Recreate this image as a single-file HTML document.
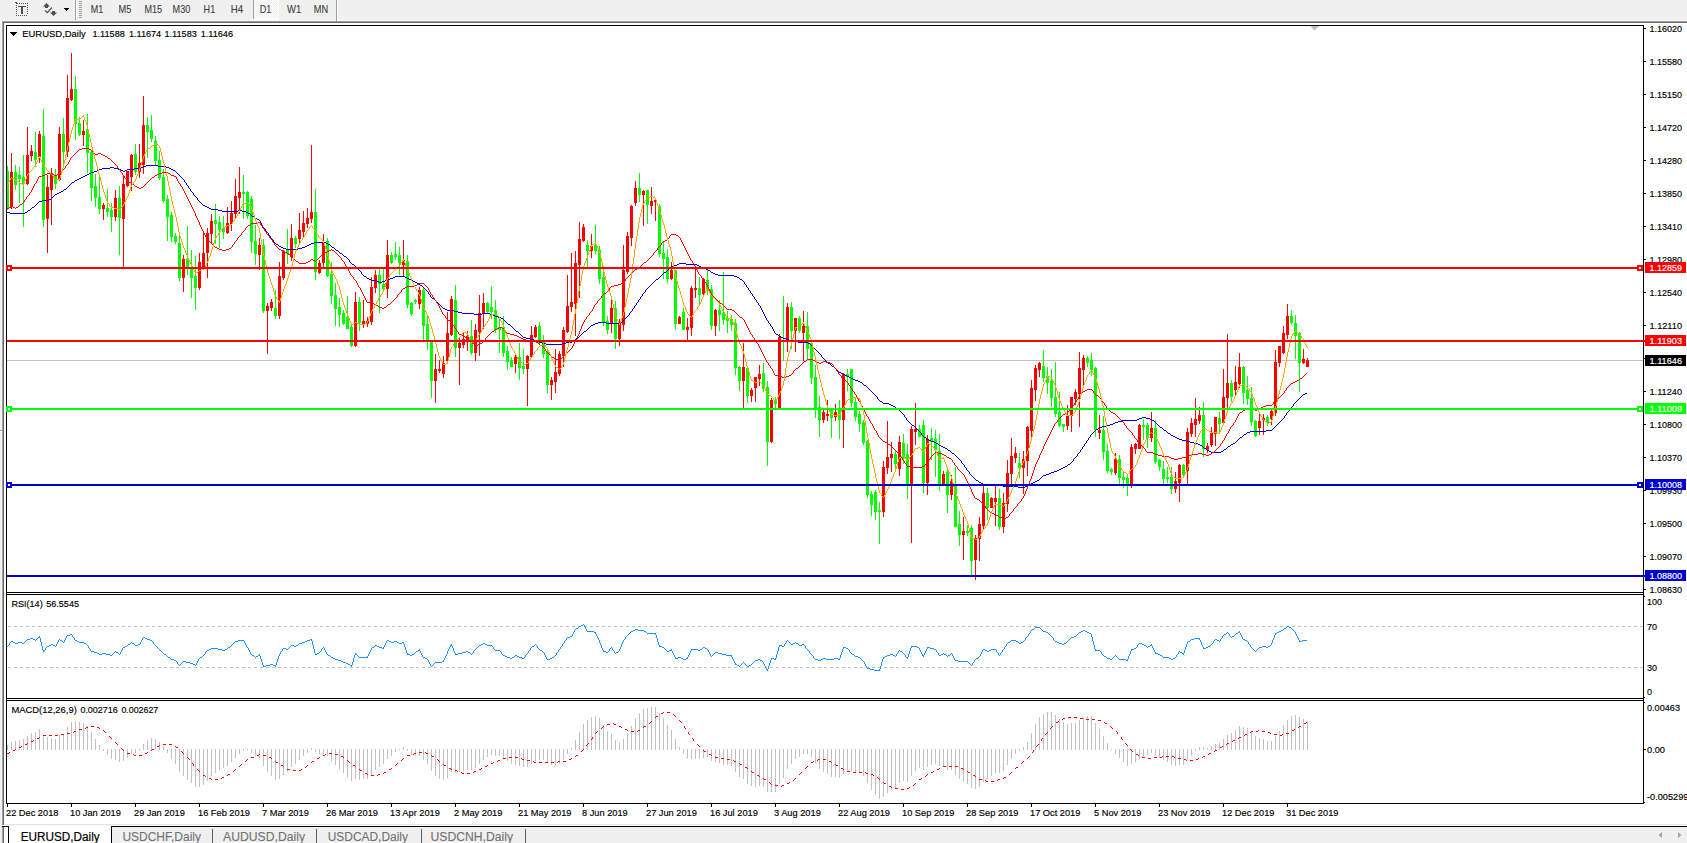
<!DOCTYPE html>
<html><head><meta charset="utf-8"><title>EURUSD,Daily</title>
<style>html,body{margin:0;padding:0;background:#f0f0f0;overflow:hidden}body{width:1687px;height:843px;position:relative;font-family:"Liberation Sans",sans-serif}</style></head>
<body>
<svg width="1687" height="843" viewBox="0 0 1687 843" style="position:absolute;left:0;top:0" shape-rendering="crispEdges" font-family="Liberation Sans, sans-serif" font-size="9.7">
<rect x="0" y="0" width="1687" height="843" fill="#f0f0f0"/>
<rect x="2" y="21" width="1685" height="1" fill="#a0a0a0"/>
<rect x="2" y="21" width="1" height="805" fill="#a0a0a0"/>
<rect x="3" y="22" width="1684" height="1" fill="#696969"/>
<rect x="3" y="22" width="1" height="804" fill="#696969"/>
<rect x="4" y="23" width="1683" height="803" fill="#ffffff"/>
<rect x="0" y="22" width="2" height="1" fill="#ffffff"/>
<rect x="1" y="23" width="1" height="803" fill="#f5f5f5"/>
<rect x="0" y="430" width="2" height="1" fill="#a0a0a0"/>
<rect x="0" y="431" width="2" height="1" fill="#ffffff"/>
<rect x="0" y="20" width="1687" height="1" fill="#f6f6f6"/>
<rect x="4" y="824" width="1683" height="1" fill="#e3e3e3"/>
<rect x="0" y="825" width="1687" height="1" fill="#ffffff"/>
<rect x="0" y="826" width="1687" height="17" fill="#f0f0f0"/>
<rect x="2" y="826" width="1685" height="1" fill="#000000"/>
<rect x="2" y="826" width="2" height="17" fill="#a0a0a0"/>
<rect x="3" y="827" width="1" height="16" fill="#696969"/>
<rect x="9" y="826" width="102" height="17" fill="#ffffff"/>
<rect x="8" y="826" width="1" height="17" fill="#000000"/>
<rect x="111" y="826" width="1" height="17" fill="#000000"/>
<rect x="4" y="827" width="4" height="16" fill="#ffffff"/>
<rect x="2" y="826" width="7" height="1" fill="#000000"/>
<rect x="212" y="829" width="1" height="14" fill="#606060"/>
<rect x="316" y="829" width="1" height="14" fill="#606060"/>
<rect x="421" y="829" width="1" height="14" fill="#606060"/>
<rect x="525" y="829" width="1" height="14" fill="#606060"/>
<path d="M1662 832 L1662 838 L1658.7 835 Z" fill="#a0a0a0" shape-rendering="auto"/>
<path d="M1678 832 L1678 838 L1681.3 835 Z" fill="#a0a0a0" shape-rendering="auto"/>
<rect x="6" y="25" width="1638" height="1" fill="#000"/>
<rect x="6" y="25" width="1" height="779" fill="#000"/>
<rect x="1643" y="25" width="1" height="779" fill="#000"/>
<rect x="6" y="592" width="1638" height="1" fill="#000"/>
<rect x="6" y="594" width="1638" height="1" fill="#000"/>
<rect x="6" y="698" width="1638" height="1" fill="#000"/>
<rect x="6" y="700" width="1638" height="1" fill="#000"/>
<rect x="6" y="803" width="1638" height="1" fill="#000"/>
<g shape-rendering="auto">
<rect x="1644" y="28" width="2" height="1" fill="#000"/>
<text x="1649.5" y="32" fill="#000" textLength="32.5" lengthAdjust="spacingAndGlyphs" stroke="#000" stroke-width="0.16">1.16020</text>
<rect x="1644" y="61" width="2" height="1" fill="#000"/>
<text x="1649.5" y="65" fill="#000" textLength="32.5" lengthAdjust="spacingAndGlyphs" stroke="#000" stroke-width="0.16">1.15580</text>
<rect x="1644" y="94" width="2" height="1" fill="#000"/>
<text x="1649.5" y="98" fill="#000" textLength="32.5" lengthAdjust="spacingAndGlyphs" stroke="#000" stroke-width="0.16">1.15150</text>
<rect x="1644" y="127" width="2" height="1" fill="#000"/>
<text x="1649.5" y="131" fill="#000" textLength="32.5" lengthAdjust="spacingAndGlyphs" stroke="#000" stroke-width="0.16">1.14720</text>
<rect x="1644" y="160" width="2" height="1" fill="#000"/>
<text x="1649.5" y="164" fill="#000" textLength="32.5" lengthAdjust="spacingAndGlyphs" stroke="#000" stroke-width="0.16">1.14280</text>
<rect x="1644" y="193" width="2" height="1" fill="#000"/>
<text x="1649.5" y="197" fill="#000" textLength="32.5" lengthAdjust="spacingAndGlyphs" stroke="#000" stroke-width="0.16">1.13850</text>
<rect x="1644" y="226" width="2" height="1" fill="#000"/>
<text x="1649.5" y="230" fill="#000" textLength="32.5" lengthAdjust="spacingAndGlyphs" stroke="#000" stroke-width="0.16">1.13410</text>
<rect x="1644" y="259" width="2" height="1" fill="#000"/>
<text x="1649.5" y="263" fill="#000" textLength="32.5" lengthAdjust="spacingAndGlyphs" stroke="#000" stroke-width="0.16">1.12980</text>
<rect x="1644" y="292" width="2" height="1" fill="#000"/>
<text x="1649.5" y="296" fill="#000" textLength="32.5" lengthAdjust="spacingAndGlyphs" stroke="#000" stroke-width="0.16">1.12540</text>
<rect x="1644" y="325" width="2" height="1" fill="#000"/>
<text x="1649.5" y="329" fill="#000" textLength="32.5" lengthAdjust="spacingAndGlyphs" stroke="#000" stroke-width="0.16">1.12110</text>
<rect x="1644" y="358" width="2" height="1" fill="#000"/>
<text x="1649.5" y="362" fill="#000" textLength="32.5" lengthAdjust="spacingAndGlyphs" stroke="#000" stroke-width="0.16">1.11670</text>
<rect x="1644" y="391" width="2" height="1" fill="#000"/>
<text x="1649.5" y="395" fill="#000" textLength="32.5" lengthAdjust="spacingAndGlyphs" stroke="#000" stroke-width="0.16">1.11240</text>
<rect x="1644" y="424" width="2" height="1" fill="#000"/>
<text x="1649.5" y="428" fill="#000" textLength="32.5" lengthAdjust="spacingAndGlyphs" stroke="#000" stroke-width="0.16">1.10800</text>
<rect x="1644" y="457" width="2" height="1" fill="#000"/>
<text x="1649.5" y="461" fill="#000" textLength="32.5" lengthAdjust="spacingAndGlyphs" stroke="#000" stroke-width="0.16">1.10370</text>
<rect x="1644" y="490" width="2" height="1" fill="#000"/>
<text x="1649.5" y="494" fill="#000" textLength="32.5" lengthAdjust="spacingAndGlyphs" stroke="#000" stroke-width="0.16">1.09930</text>
<rect x="1644" y="523" width="2" height="1" fill="#000"/>
<text x="1649.5" y="527" fill="#000" textLength="32.5" lengthAdjust="spacingAndGlyphs" stroke="#000" stroke-width="0.16">1.09500</text>
<rect x="1644" y="556" width="2" height="1" fill="#000"/>
<text x="1649.5" y="560" fill="#000" textLength="32.5" lengthAdjust="spacingAndGlyphs" stroke="#000" stroke-width="0.16">1.09070</text>
<rect x="1644" y="589" width="2" height="1" fill="#000"/>
<text x="1649.5" y="593" fill="#000" textLength="32.5" lengthAdjust="spacingAndGlyphs" stroke="#000" stroke-width="0.16">1.08630</text>
</g>
<rect x="1644" y="596" width="1" height="1" fill="#000"/>
<rect x="1644" y="697" width="1" height="1" fill="#000"/>
<rect x="1644" y="702" width="1" height="1" fill="#000"/>
<rect x="1644" y="802" width="1" height="1" fill="#000"/>
<rect x="1644" y="749" width="2" height="1" fill="#000"/>
<g shape-rendering="auto">
<text x="1647" y="605" fill="#000" textLength="15" lengthAdjust="spacingAndGlyphs" stroke="#000" stroke-width="0.16">100</text>
<text x="1647" y="630" fill="#000" textLength="10" lengthAdjust="spacingAndGlyphs" stroke="#000" stroke-width="0.16">70</text>
<text x="1647" y="671" fill="#000" textLength="10" lengthAdjust="spacingAndGlyphs" stroke="#000" stroke-width="0.16">30</text>
<text x="1647" y="695" fill="#000" textLength="5" lengthAdjust="spacingAndGlyphs" stroke="#000" stroke-width="0.16">0</text>
<text x="1647" y="711" fill="#000" textLength="33" lengthAdjust="spacingAndGlyphs" stroke="#000" stroke-width="0.16">0.00463</text>
<text x="1647" y="753" fill="#000" textLength="18" lengthAdjust="spacingAndGlyphs" stroke="#000" stroke-width="0.16">0.00</text>
<text x="1647" y="800" fill="#000" textLength="41.5" lengthAdjust="spacingAndGlyphs" stroke="#000" stroke-width="0.16">-0.005299</text>
</g>
<clipPath id="cm"><rect x="7" y="26" width="1636" height="566"/></clipPath>
<g clip-path="url(#cm)">
<rect x="7" y="360" width="1636" height="1" fill="#c0c0c0"/>
<path fill="#00ff00" d="M7 166h1v44h-1zM6 171h3v37h-3zM15 165h1v25h-1zM14 172h3v13h-3zM19 167h1v36h-1zM18 175h3v4h-3zM23 155h1v72h-1zM22 177h3v7h-3zM35 132h1v35h-1zM34 152h3v8h-3zM43 109h1v118h-1zM42 136h3v84h-3zM55 169h1v20h-1zM54 175h3v9h-3zM63 118h1v48h-1zM62 134h3v18h-3zM75 76h1v64h-1zM74 89h3v35h-3zM79 117h1v19h-1zM78 123h3v12h-3zM87 114h1v59h-1zM86 129h3v24h-3zM91 150h1v51h-1zM90 152h3v36h-3zM95 174h1v33h-1zM94 186h3v12h-3zM99 177h1v37h-1zM98 197h3v12h-3zM107 189h1v28h-1zM106 208h3v4h-3zM111 203h1v29h-1zM110 210h3v7h-3zM119 186h1v69h-1zM118 198h3v20h-3zM135 144h1v31h-1zM134 154h3v18h-3zM147 117h1v41h-1zM146 125h3v7h-3zM151 115h1v27h-1zM150 130h3v9h-3zM155 136h1v29h-1zM154 141h3v20h-3zM159 151h1v29h-1zM158 160h3v18h-3zM163 169h1v34h-1zM162 177h3v24h-3zM167 195h1v46h-1zM166 199h3v18h-3zM171 212h1v30h-1zM170 215h3v22h-3zM175 233h1v11h-1zM174 236h3v6h-3zM179 236h1v45h-1zM178 243h3v35h-3zM187 226h1v49h-1zM186 259h3v9h-3zM191 250h1v48h-1zM190 267h3v11h-3zM195 256h1v54h-1zM194 276h3v12h-3zM215 204h1v40h-1zM214 220h3v4h-3zM219 216h1v32h-1zM218 222h3v8h-3zM223 216h1v23h-1zM222 228h3v4h-3zM243 175h1v44h-1zM242 192h3v2h-3zM247 191h1v28h-1zM246 192h3v24h-3zM251 196h1v57h-1zM250 199h3v43h-3zM255 225h1v40h-1zM254 241h3v13h-3zM263 239h1v74h-1zM262 245h3v66h-3zM275 290h1v29h-1zM274 308h3v8h-3zM287 229h1v35h-1zM286 249h3v5h-3zM295 236h1v12h-1zM294 238h3v6h-3zM315 189h1v91h-1zM314 212h3v60h-3zM327 238h1v39h-1zM326 241h3v35h-3zM331 262h1v42h-1zM330 274h3v22h-3zM335 283h1v43h-1zM334 295h3v14h-3zM339 298h1v29h-1zM338 307h3v8h-3zM343 310h1v15h-1zM342 313h3v11h-3zM347 296h1v33h-1zM346 317h3v12h-3zM351 323h1v24h-1zM350 327h3v19h-3zM359 297h1v34h-1zM358 302h3v21h-3zM379 269h1v44h-1zM378 275h3v9h-3zM383 269h1v22h-1zM382 284h3v5h-3zM391 252h1v12h-1zM390 255h3v8h-3zM395 242h1v18h-1zM394 254h3v3h-3zM399 247h1v28h-1zM398 255h3v8h-3zM407 255h1v53h-1zM406 261h3v44h-3zM411 302h1v14h-1zM410 303h3v11h-3zM415 299h1v5h-1zM414 300h3v2h-3zM423 287h1v53h-1zM422 290h3v36h-3zM427 315h1v35h-1zM426 324h3v17h-3zM431 341h1v57h-1zM430 342h3v39h-3zM455 285h1v72h-1zM454 300h3v48h-3zM471 320h1v35h-1zM470 336h3v17h-3zM487 302h1v11h-1zM486 303h3v9h-3zM491 286h1v33h-1zM490 307h3v5h-3zM495 300h1v33h-1zM494 310h3v20h-3zM499 317h1v36h-1zM498 327h3v3h-3zM503 316h1v41h-1zM502 327h3v26h-3zM507 346h1v24h-1zM506 351h3v11h-3zM511 357h1v10h-1zM510 360h3v7h-3zM519 343h1v37h-1zM518 357h3v11h-3zM523 349h1v25h-1zM522 366h3v3h-3zM539 322h1v22h-1zM538 326h3v17h-3zM543 335h1v23h-1zM542 342h3v12h-3zM547 350h1v43h-1zM546 352h3v33h-3zM587 240h1v27h-1zM586 245h3v6h-3zM595 225h1v29h-1zM594 245h3v6h-3zM599 246h1v38h-1zM598 250h3v29h-3zM603 266h1v60h-1zM602 277h3v46h-3zM607 316h1v18h-1zM606 321h3v9h-3zM615 301h1v48h-1zM614 308h3v31h-3zM639 173h1v29h-1zM638 188h3v7h-3zM647 190h1v34h-1zM646 190h3v15h-3zM659 204h1v53h-1zM658 206h3v48h-3zM663 242h1v37h-1zM662 253h3v6h-3zM667 249h1v34h-1zM666 257h3v22h-3zM675 270h1v60h-1zM674 270h3v54h-3zM683 308h1v22h-1zM682 312h3v18h-3zM699 277h1v28h-1zM698 288h3v7h-3zM707 270h1v25h-1zM706 280h3v10h-3zM711 285h1v45h-1zM710 289h3v37h-3zM719 300h1v31h-1zM718 310h3v5h-3zM723 272h1v53h-1zM722 313h3v7h-3zM727 311h1v22h-1zM726 318h3v3h-3zM731 315h1v16h-1zM730 319h3v6h-3zM735 319h1v56h-1zM734 323h3v45h-3zM739 366h1v25h-1zM738 367h3v14h-3zM747 367h1v36h-1zM746 368h3v28h-3zM763 363h1v29h-1zM762 373h3v16h-3zM767 381h1v85h-1zM766 387h3v55h-3zM775 397h1v12h-1zM774 400h3v4h-3zM783 296h1v65h-1zM782 340h3v2h-3zM791 302h1v47h-1zM790 307h3v24h-3zM799 316h1v17h-1zM798 318h3v13h-3zM807 312h1v48h-1zM806 326h3v23h-3zM811 340h1v44h-1zM810 343h3v35h-3zM815 365h1v53h-1zM814 377h3v32h-3zM819 396h1v41h-1zM818 407h3v13h-3zM831 410h1v28h-1zM830 410h3v8h-3zM839 400h1v39h-1zM838 410h3v10h-3zM847 369h1v22h-1zM846 374h3v3h-3zM851 369h1v38h-1zM850 369h3v34h-3zM855 397h1v24h-1zM854 402h3v15h-3zM859 411h1v21h-1zM858 414h3v10h-3zM863 420h1v25h-1zM862 422h3v21h-3zM867 440h1v58h-1zM866 441h3v54h-3zM871 491h1v25h-1zM870 494h3v11h-3zM875 490h1v30h-1zM874 492h3v20h-3zM879 502h1v42h-1zM878 510h3v2h-3zM895 451h1v18h-1zM894 454h3v10h-3zM903 434h1v30h-1zM902 443h3v15h-3zM907 444h1v55h-1zM906 454h3v31h-3zM919 425h1v12h-1zM918 429h3v8h-3zM923 420h1v73h-1zM922 425h3v58h-3zM931 428h1v32h-1zM930 438h3v4h-3zM935 430h1v47h-1zM934 439h3v11h-3zM939 434h1v57h-1zM938 451h3v34h-3zM947 470h1v43h-1zM946 472h3v23h-3zM955 467h1v60h-1zM954 486h3v41h-3zM959 511h1v35h-1zM958 524h3v11h-3zM967 525h1v11h-1zM966 531h3v2h-3zM971 525h1v50h-1zM970 528h3v33h-3zM987 488h1v32h-1zM986 493h3v15h-3zM999 489h1v41h-1zM998 498h3v29h-3zM1019 453h1v25h-1zM1018 463h3v5h-3zM1043 350h1v32h-1zM1042 366h3v12h-3zM1047 367h1v27h-1zM1046 376h3v7h-3zM1051 369h1v38h-1zM1050 381h3v17h-3zM1055 362h1v55h-1zM1054 397h3v17h-3zM1059 392h1v35h-1zM1058 412h3v14h-3zM1063 424h1v8h-1zM1062 424h3v3h-3zM1087 356h1v11h-1zM1086 358h3v5h-3zM1091 353h1v23h-1zM1090 360h3v10h-3zM1095 367h1v70h-1zM1094 368h3v62h-3zM1103 416h1v44h-1zM1102 430h3v22h-3zM1107 444h1v29h-1zM1106 451h3v20h-3zM1111 468h1v7h-1zM1110 469h3v3h-3zM1119 455h1v30h-1zM1118 459h3v19h-3zM1123 472h1v16h-1zM1122 477h3v3h-3zM1127 475h1v21h-1zM1126 478h3v7h-3zM1143 419h1v21h-1zM1142 425h3v2h-3zM1147 423h1v25h-1zM1146 425h3v13h-3zM1155 420h1v44h-1zM1154 428h3v34h-3zM1159 459h1v12h-1zM1158 460h3v7h-3zM1163 461h1v24h-1zM1162 469h3v10h-3zM1167 467h1v16h-1zM1166 477h3v2h-3zM1171 467h1v27h-1zM1170 477h3v12h-3zM1183 464h1v14h-1zM1182 465h3v10h-3zM1203 402h1v55h-1zM1202 415h3v34h-3zM1219 412h1v21h-1zM1218 418h3v6h-3zM1231 380h1v22h-1zM1230 383h3v14h-3zM1243 366h1v38h-1zM1242 367h3v26h-3zM1247 376h1v29h-1zM1246 390h3v9h-3zM1251 387h1v39h-1zM1250 398h3v24h-3zM1255 420h1v17h-1zM1254 421h3v15h-3zM1267 415h1v11h-1zM1266 417h3v6h-3zM1291 310h1v15h-1zM1290 316h3v7h-3zM1295 315h1v44h-1zM1294 323h3v13h-3zM1299 332h1v60h-1zM1298 333h3v30h-3z"/>
<path fill="#ff0000" d="M11 153h1v56h-1zM10 172h3v35h-3zM27 127h1v58h-1zM26 155h3v29h-3zM31 145h1v16h-1zM30 151h3v5h-3zM39 131h1v32h-1zM38 134h3v23h-3zM47 175h1v78h-1zM46 187h3v32h-3zM51 168h1v57h-1zM50 173h3v17h-3zM59 127h1v54h-1zM58 134h3v46h-3zM67 75h1v82h-1zM66 98h3v54h-3zM71 53h1v48h-1zM70 89h3v11h-3zM83 120h1v26h-1zM82 131h3v4h-3zM103 203h1v17h-1zM102 205h3v4h-3zM115 190h1v31h-1zM114 198h3v19h-3zM123 176h1v92h-1zM122 184h3v35h-3zM127 171h1v16h-1zM126 171h3v15h-3zM131 154h1v37h-1zM130 155h3v22h-3zM139 144h1v34h-1zM138 163h3v9h-3zM143 96h1v78h-1zM142 125h3v40h-3zM183 255h1v37h-1zM182 259h3v19h-3zM199 253h1v37h-1zM198 262h3v26h-3zM203 232h1v36h-1zM202 253h3v14h-3zM207 228h1v50h-1zM206 233h3v20h-3zM211 214h1v29h-1zM210 221h3v13h-3zM227 207h1v27h-1zM226 223h3v10h-3zM231 201h1v30h-1zM230 213h3v11h-3zM235 179h1v39h-1zM234 196h3v18h-3zM239 167h1v47h-1zM238 192h3v6h-3zM259 238h1v32h-1zM258 245h3v10h-3zM267 303h1v51h-1zM266 306h3v5h-3zM271 299h1v12h-1zM270 302h3v6h-3zM279 262h1v57h-1zM278 276h3v40h-3zM283 250h1v30h-1zM282 251h3v27h-3zM291 224h1v37h-1zM290 238h3v19h-3zM299 213h1v30h-1zM298 230h3v9h-3zM303 211h1v26h-1zM302 223h3v9h-3zM307 208h1v20h-1zM306 218h3v6h-3zM311 145h1v78h-1zM310 212h3v7h-3zM319 260h1v14h-1zM318 263h3v10h-3zM323 234h1v33h-1zM322 243h3v20h-3zM355 292h1v55h-1zM354 302h3v44h-3zM363 300h1v28h-1zM362 321h3v3h-3zM367 317h1v10h-1zM366 321h3v3h-3zM371 277h1v48h-1zM370 287h3v35h-3zM375 270h1v23h-1zM374 275h3v13h-3zM387 240h1v58h-1zM386 255h3v34h-3zM403 240h1v36h-1zM402 260h3v5h-3zM419 287h1v22h-1zM418 290h3v14h-3zM435 354h1v49h-1zM434 369h3v12h-3zM439 360h1v13h-1zM438 369h3v2h-3zM443 356h1v22h-1zM442 363h3v11h-3zM447 312h1v50h-1zM446 333h3v28h-3zM451 296h1v40h-1zM450 299h3v36h-3zM459 338h1v47h-1zM458 343h3v5h-3zM463 333h1v15h-1zM462 339h3v6h-3zM467 331h1v20h-1zM466 336h3v5h-3zM475 324h1v37h-1zM474 330h3v23h-3zM479 295h1v61h-1zM478 313h3v19h-3zM483 293h1v36h-1zM482 303h3v11h-3zM515 354h1v19h-1zM514 357h3v7h-3zM527 355h1v51h-1zM526 356h3v13h-3zM531 326h1v31h-1zM530 335h3v22h-3zM535 325h1v13h-1zM534 327h3v10h-3zM551 377h1v23h-1zM550 380h3v5h-3zM555 349h1v44h-1zM554 372h3v10h-3zM559 351h1v25h-1zM558 354h3v20h-3zM563 327h1v40h-1zM562 330h3v26h-3zM567 275h1v58h-1zM566 306h3v26h-3zM571 253h1v59h-1zM570 302h3v5h-3zM575 251h1v85h-1zM574 263h3v41h-3zM579 222h1v76h-1zM578 239h3v26h-3zM583 224h1v18h-1zM582 227h3v14h-3zM591 234h1v24h-1zM590 246h3v5h-3zM611 300h1v33h-1zM610 308h3v16h-3zM619 319h1v27h-1zM618 323h3v16h-3zM623 245h1v86h-1zM622 270h3v55h-3zM627 232h1v42h-1zM626 236h3v36h-3zM631 205h1v41h-1zM630 206h3v32h-3zM635 181h1v25h-1zM634 188h3v15h-3zM643 190h1v36h-1zM642 191h3v4h-3zM651 187h1v27h-1zM650 201h3v5h-3zM655 199h1v22h-1zM654 200h3v2h-3zM671 262h1v18h-1zM670 270h3v9h-3zM679 316h1v8h-1zM678 317h3v7h-3zM687 318h1v23h-1zM686 327h3v3h-3zM691 286h1v50h-1zM690 288h3v40h-3zM695 268h1v30h-1zM694 288h3v2h-3zM703 278h1v17h-1zM702 279h3v15h-3zM715 309h1v27h-1zM714 310h3v16h-3zM743 343h1v66h-1zM742 367h3v14h-3zM751 388h1v14h-1zM750 390h3v6h-3zM755 377h1v25h-1zM754 377h3v11h-3zM759 365h1v21h-1zM758 374h3v5h-3zM771 398h1v45h-1zM770 400h3v42h-3zM779 334h1v74h-1zM778 337h3v71h-3zM787 303h1v49h-1zM786 307h3v33h-3zM795 318h1v34h-1zM794 318h3v13h-3zM803 311h1v50h-1zM802 326h3v7h-3zM823 410h1v13h-1zM822 412h3v8h-3zM827 400h1v21h-1zM826 414h3v2h-3zM835 404h1v17h-1zM834 412h3v5h-3zM843 373h1v75h-1zM842 374h3v46h-3zM883 461h1v56h-1zM882 467h3v45h-3zM887 421h1v53h-1zM886 457h3v11h-3zM891 442h1v30h-1zM890 454h3v4h-3zM899 436h1v40h-1zM898 442h3v27h-3zM911 426h1v117h-1zM910 429h3v56h-3zM915 403h1v42h-1zM914 429h3v3h-3zM927 435h1v60h-1zM926 439h3v44h-3zM943 471h1v15h-1zM942 474h3v11h-3zM951 475h1v25h-1zM950 481h3v14h-3zM963 517h1v43h-1zM962 531h3v4h-3zM975 535h1v45h-1zM974 538h3v22h-3zM979 517h1v44h-1zM978 524h3v15h-3zM983 485h1v44h-1zM982 493h3v33h-3zM991 497h1v11h-1zM990 498h3v10h-3zM995 486h1v40h-1zM994 498h3v4h-3zM1003 493h1v40h-1zM1002 503h3v24h-3zM1007 460h1v52h-1zM1006 473h3v31h-3zM1011 438h1v47h-1zM1010 456h3v18h-3zM1015 447h1v16h-1zM1014 453h3v5h-3zM1023 451h1v43h-1zM1022 459h3v9h-3zM1027 426h1v50h-1zM1026 427h3v34h-3zM1031 380h1v57h-1zM1030 388h3v43h-3zM1035 365h1v36h-1zM1034 368h3v22h-3zM1039 362h1v15h-1zM1038 363h3v7h-3zM1067 405h1v25h-1zM1066 416h3v10h-3zM1071 397h1v35h-1zM1070 397h3v19h-3zM1075 389h1v16h-1zM1074 392h3v7h-3zM1079 352h1v75h-1zM1078 368h3v26h-3zM1083 355h1v32h-1zM1082 358h3v12h-3zM1099 415h1v24h-1zM1098 430h3v3h-3zM1115 453h1v22h-1zM1114 459h3v14h-3zM1131 444h1v44h-1zM1130 447h3v38h-3zM1135 443h1v11h-1zM1134 444h3v5h-3zM1139 424h1v25h-1zM1138 425h3v24h-3zM1151 412h1v30h-1zM1150 428h3v10h-3zM1175 472h1v21h-1zM1174 481h3v8h-3zM1179 464h1v38h-1zM1178 465h3v18h-3zM1187 428h1v57h-1zM1186 432h3v39h-3zM1191 418h1v19h-1zM1190 423h3v11h-3zM1195 398h1v39h-1zM1194 419h3v6h-3zM1199 407h1v17h-1zM1198 415h3v6h-3zM1207 443h1v10h-1zM1206 446h3v4h-3zM1211 427h1v20h-1zM1210 433h3v12h-3zM1215 417h1v29h-1zM1214 417h3v17h-3zM1223 369h1v55h-1zM1222 397h3v26h-3zM1227 334h1v79h-1zM1226 383h3v15h-3zM1235 366h1v30h-1zM1234 382h3v8h-3zM1239 353h1v35h-1zM1238 367h3v17h-3zM1259 413h1v22h-1zM1258 421h3v7h-3zM1263 414h1v21h-1zM1262 418h3v2h-3zM1271 410h1v15h-1zM1270 411h3v8h-3zM1275 350h1v66h-1zM1274 362h3v51h-3zM1279 346h1v21h-1zM1278 346h3v17h-3zM1283 326h1v28h-1zM1282 333h3v20h-3zM1287 304h1v35h-1zM1286 316h3v19h-3zM1303 349h1v15h-1zM1302 359h3v4h-3zM1307 358h1v9h-1zM1306 360h3v7h-3z"/>
<path fill="#0000cd" d="M7 212h3v1h-3zM10 213h15v1h-15zM25 212h2v1h-2zM27 211h1v1h-1zM28 210h2v1h-2zM30 209h1v1h-1zM31 208h1v1h-1zM32 207h2v1h-2zM34 206h1v1h-1zM35 205h1v1h-1zM36 204h1v1h-1zM37 203h1v1h-1zM38 202h1v1h-1zM39 201h3v1h-3zM42 200h7v1h-7zM49 199h2v1h-2zM51 198h1v1h-1zM52 197h1v1h-1zM53 196h1v1h-1zM54 195h1v1h-1zM55 194h2v1h-2zM57 193h2v1h-2zM59 192h2v1h-2zM61 191h2v1h-2zM63 190h1v1h-1zM64 189h2v1h-2zM66 188h1v1h-1zM67 187h1v1h-1zM68 186h1v1h-1zM69 185h1v1h-1zM70 184h1v1h-1zM71 183h1v1h-1zM72 182h2v1h-2zM74 181h1v1h-1zM75 180h2v1h-2zM77 179h2v1h-2zM79 178h2v1h-2zM81 177h2v1h-2zM83 176h2v1h-2zM85 175h2v1h-2zM87 174h2v1h-2zM89 173h2v1h-2zM91 172h3v1h-3zM94 171h3v1h-3zM97 170h2v1h-2zM99 169h3v1h-3zM102 168h8v1h-8zM110 167h4v1h-4zM114 168h4v1h-4zM118 169h3v1h-3zM121 170h2v1h-2zM123 171h2v1h-2zM125 170h2v1h-2zM127 169h7v1h-7zM134 168h7v1h-7zM141 167h2v1h-2zM143 166h3v1h-3zM146 165h12v1h-12zM158 166h8v1h-8zM166 167h3v1h-3zM169 168h2v1h-2zM171 169h2v1h-2zM173 170h2v1h-2zM175 171h1v1h-1zM176 172h1v1h-1zM177 173h1v1h-1zM178 174h1v1h-1zM179 175h1v1h-1zM180 176h1v1h-1zM181 177h1v1h-1zM182 178h1v1h-1zM183 179h1v1h-1zM184 180h1v2h-1zM185 182h1v1h-1zM186 183h1v2h-1zM187 185h1v1h-1zM188 186h1v2h-1zM189 188h1v1h-1zM190 189h1v2h-1zM191 191h1v1h-1zM192 192h1v1h-1zM193 193h1v2h-1zM194 195h1v1h-1zM195 196h1v1h-1zM196 197h1v1h-1zM197 198h1v2h-1zM198 200h1v1h-1zM199 201h1v1h-1zM200 202h1v1h-1zM201 203h1v1h-1zM202 204h1v1h-1zM203 205h2v1h-2zM205 206h2v1h-2zM207 207h2v1h-2zM209 208h2v1h-2zM211 209h7v1h-7zM218 210h4v1h-4zM222 211h16v1h-16zM238 210h4v1h-4zM242 211h4v1h-4zM246 212h2v1h-2zM248 213h2v1h-2zM250 214h1v1h-1zM251 215h1v1h-1zM252 216h2v1h-2zM254 217h1v1h-1zM255 218h2v1h-2zM257 219h2v1h-2zM259 220h1v1h-1zM260 221h1v2h-1zM261 223h1v2h-1zM262 225h1v2h-1zM263 227h1v1h-1zM264 228h1v1h-1zM265 229h1v2h-1zM266 231h1v1h-1zM267 232h1v1h-1zM268 233h1v2h-1zM269 235h1v1h-1zM270 236h1v2h-1zM271 238h1v1h-1zM272 239h1v1h-1zM273 240h1v2h-1zM274 242h1v1h-1zM275 243h1v1h-1zM276 244h2v1h-2zM278 245h1v1h-1zM279 246h2v1h-2zM281 247h2v1h-2zM283 248h3v1h-3zM286 249h12v1h-12zM298 248h4v1h-4zM302 247h3v1h-3zM305 246h2v1h-2zM307 245h2v1h-2zM309 244h2v1h-2zM311 243h3v1h-3zM314 242h12v1h-12zM326 243h2v1h-2zM328 244h2v1h-2zM330 245h1v1h-1zM331 246h1v1h-1zM332 247h2v1h-2zM334 248h1v1h-1zM335 249h1v1h-1zM336 250h2v1h-2zM338 251h1v1h-1zM339 252h1v1h-1zM340 253h2v1h-2zM342 254h1v1h-1zM343 255h1v1h-1zM344 256h2v1h-2zM346 257h1v1h-1zM347 258h1v1h-1zM348 259h1v1h-1zM349 260h1v2h-1zM350 262h1v1h-1zM351 263h1v1h-1zM352 264h2v1h-2zM354 265h1v1h-1zM355 266h1v1h-1zM356 267h1v1h-1zM357 268h1v1h-1zM358 269h1v1h-1zM359 270h1v1h-1zM360 271h1v1h-1zM361 272h1v2h-1zM362 274h1v1h-1zM363 275h1v1h-1zM364 276h2v1h-2zM366 277h1v1h-1zM367 278h2v1h-2zM369 279h2v1h-2zM371 280h6v1h-6zM377 281h2v1h-2zM379 282h3v1h-3zM382 281h3v1h-3zM385 280h2v1h-2zM387 279h3v1h-3zM390 278h3v1h-3zM393 277h2v1h-2zM395 276h10v1h-10zM405 277h2v1h-2zM407 278h2v1h-2zM409 279h2v1h-2zM411 280h2v1h-2zM413 281h2v1h-2zM415 282h2v1h-2zM417 283h2v1h-2zM419 284h1v1h-1zM420 285h2v1h-2zM422 286h1v1h-1zM423 287h1v1h-1zM424 288h1v1h-1zM425 289h1v1h-1zM426 290h1v1h-1zM427 291h1v1h-1zM428 292h1v2h-1zM429 294h1v1h-1zM430 295h1v2h-1zM431 297h1v1h-1zM432 298h2v1h-2zM434 299h1v1h-1zM435 300h1v1h-1zM436 301h1v1h-1zM437 302h1v1h-1zM438 303h1v1h-1zM439 304h1v1h-1zM440 305h1v1h-1zM441 306h1v1h-1zM442 307h1v1h-1zM443 308h2v1h-2zM445 309h2v1h-2zM447 310h7v1h-7zM454 311h4v1h-4zM458 312h4v1h-4zM462 313h12v1h-12zM474 314h8v1h-8zM482 313h8v1h-8zM490 314h3v1h-3zM493 315h2v1h-2zM495 316h3v1h-3zM498 317h3v1h-3zM501 318h2v1h-2zM503 319h1v1h-1zM504 320h1v1h-1zM505 321h1v1h-1zM506 322h1v1h-1zM507 323h1v1h-1zM508 324h2v1h-2zM510 325h1v1h-1zM511 326h1v1h-1zM512 327h1v1h-1zM513 328h1v1h-1zM514 329h1v1h-1zM515 330h1v1h-1zM516 331h2v1h-2zM518 332h1v1h-1zM519 333h1v1h-1zM520 334h1v1h-1zM521 335h1v1h-1zM522 336h1v1h-1zM523 337h3v1h-3zM526 338h4v1h-4zM530 339h4v1h-4zM534 340h3v1h-3zM537 341h2v1h-2zM539 342h3v1h-3zM542 343h4v1h-4zM546 344h16v1h-16zM562 343h4v1h-4zM566 342h6v1h-6zM572 341h2v1h-2zM574 340h1v1h-1zM575 339h1v1h-1zM576 338h2v1h-2zM578 337h1v1h-1zM579 336h1v1h-1zM580 335h1v1h-1zM581 334h1v1h-1zM582 333h1v1h-1zM583 332h1v1h-1zM584 331h2v1h-2zM586 330h1v1h-1zM587 329h1v1h-1zM588 328h1v1h-1zM589 327h1v1h-1zM590 326h1v1h-1zM591 325h2v1h-2zM593 324h2v1h-2zM595 323h3v1h-3zM598 322h8v1h-8zM606 323h14v1h-14zM620 322h2v1h-2zM622 321h1v1h-1zM623 320h1v1h-1zM624 319h1v1h-1zM625 318h1v1h-1zM626 317h1v1h-1zM627 316h1v1h-1zM628 315h1v1h-1zM629 313h1v2h-1zM630 312h1v1h-1zM631 311h1v1h-1zM632 309h1v2h-1zM633 308h1v1h-1zM634 306h1v2h-1zM635 305h1v1h-1zM636 303h1v2h-1zM637 302h1v1h-1zM638 300h1v2h-1zM639 299h1v1h-1zM640 297h1v2h-1zM641 296h1v1h-1zM642 294h1v2h-1zM643 293h1v1h-1zM644 292h1v1h-1zM645 290h1v2h-1zM646 289h1v1h-1zM647 288h1v1h-1zM648 287h1v1h-1zM649 286h1v1h-1zM650 285h1v1h-1zM651 284h1v1h-1zM652 283h1v1h-1zM653 282h1v1h-1zM654 281h1v1h-1zM655 280h1v1h-1zM656 279h2v1h-2zM658 278h1v1h-1zM659 277h1v1h-1zM660 276h1v1h-1zM661 275h1v1h-1zM662 274h1v1h-1zM663 273h1v1h-1zM664 272h2v1h-2zM666 271h1v1h-1zM667 270h1v1h-1zM668 269h1v1h-1zM669 268h1v1h-1zM670 267h1v1h-1zM671 266h3v1h-3zM674 265h3v1h-3zM677 264h2v1h-2zM679 263h7v1h-7zM686 264h11v1h-11zM697 265h2v1h-2zM699 266h2v1h-2zM701 267h2v1h-2zM703 268h3v1h-3zM706 269h2v1h-2zM708 270h2v1h-2zM710 271h1v1h-1zM711 272h2v1h-2zM713 273h2v1h-2zM715 274h3v1h-3zM718 275h16v1h-16zM734 276h3v1h-3zM737 277h2v1h-2zM739 278h1v1h-1zM740 279h2v1h-2zM742 280h1v1h-1zM743 281h1v1h-1zM744 282h1v2h-1zM745 284h1v1h-1zM746 285h1v2h-1zM747 287h1v1h-1zM748 288h1v2h-1zM749 290h1v1h-1zM750 291h1v2h-1zM751 293h1v1h-1zM752 294h1v2h-1zM753 296h1v1h-1zM754 297h1v2h-1zM755 299h1v1h-1zM756 300h1v2h-1zM757 302h1v1h-1zM758 303h1v2h-1zM759 305h1v1h-1zM760 306h1v2h-1zM761 308h1v2h-1zM762 310h1v2h-1zM763 312h1v2h-1zM764 314h1v2h-1zM765 316h1v2h-1zM766 318h1v2h-1zM767 320h1v1h-1zM768 321h1v2h-1zM769 323h1v1h-1zM770 324h1v2h-1zM771 326h1v1h-1zM772 327h1v2h-1zM773 329h1v2h-1zM774 331h1v2h-1zM775 333h1v1h-1zM776 334h2v1h-2zM778 335h1v1h-1zM779 336h2v1h-2zM781 337h2v1h-2zM783 338h3v1h-3zM786 339h3v1h-3zM789 340h2v1h-2zM791 341h7v1h-7zM798 342h10v1h-10zM808 343h2v1h-2zM810 344h1v1h-1zM811 345h1v1h-1zM812 346h1v1h-1zM813 347h1v1h-1zM814 348h1v1h-1zM815 349h1v1h-1zM816 350h1v1h-1zM817 351h1v1h-1zM818 352h1v1h-1zM819 353h1v1h-1zM820 354h1v1h-1zM821 355h1v2h-1zM822 357h1v1h-1zM823 358h1v1h-1zM824 359h1v1h-1zM825 360h1v1h-1zM826 361h1v1h-1zM827 362h1v1h-1zM828 363h2v1h-2zM830 364h1v1h-1zM831 365h1v1h-1zM832 366h2v1h-2zM834 367h1v1h-1zM835 368h1v1h-1zM836 369h1v1h-1zM837 370h1v1h-1zM838 371h1v1h-1zM839 372h2v1h-2zM841 373h2v1h-2zM843 374h2v1h-2zM845 375h2v1h-2zM847 376h2v1h-2zM849 377h2v1h-2zM851 378h2v1h-2zM853 379h2v1h-2zM855 380h3v1h-3zM858 381h2v1h-2zM860 382h2v1h-2zM862 383h1v1h-1zM863 384h1v1h-1zM864 385h2v1h-2zM866 386h1v1h-1zM867 387h1v1h-1zM868 388h1v1h-1zM869 389h1v1h-1zM870 390h1v1h-1zM871 391h1v1h-1zM872 392h1v1h-1zM873 393h1v1h-1zM874 394h1v1h-1zM875 395h1v1h-1zM876 396h1v1h-1zM877 397h1v2h-1zM878 399h1v1h-1zM879 400h1v1h-1zM880 401h2v1h-2zM882 402h1v1h-1zM883 403h6v1h-6zM889 404h2v1h-2zM891 405h2v1h-2zM893 406h2v1h-2zM895 407h1v1h-1zM896 408h2v1h-2zM898 409h1v1h-1zM899 410h1v1h-1zM900 411h1v1h-1zM901 412h1v1h-1zM902 413h1v1h-1zM903 414h1v1h-1zM904 415h1v2h-1zM905 417h1v1h-1zM906 418h1v2h-1zM907 420h1v1h-1zM908 421h1v1h-1zM909 422h1v1h-1zM910 423h1v1h-1zM911 424h1v1h-1zM912 425h2v1h-2zM914 426h1v1h-1zM915 427h1v1h-1zM916 428h1v1h-1zM917 429h1v1h-1zM918 430h1v1h-1zM919 431h1v1h-1zM920 432h1v1h-1zM921 433h1v2h-1zM922 435h1v1h-1zM923 436h1v1h-1zM924 437h2v1h-2zM926 438h1v1h-1zM927 439h2v1h-2zM929 440h2v1h-2zM931 441h3v1h-3zM934 442h2v1h-2zM936 443h2v1h-2zM938 444h1v1h-1zM939 445h2v1h-2zM941 446h2v1h-2zM943 447h2v1h-2zM945 448h2v1h-2zM947 449h1v1h-1zM948 450h2v1h-2zM950 451h1v1h-1zM951 452h1v1h-1zM952 453h2v1h-2zM954 454h1v1h-1zM955 455h1v1h-1zM956 456h1v1h-1zM957 457h1v1h-1zM958 458h1v1h-1zM959 459h1v1h-1zM960 460h1v1h-1zM961 461h1v2h-1zM962 463h1v1h-1zM963 464h1v1h-1zM964 465h1v2h-1zM965 467h1v1h-1zM966 468h1v2h-1zM967 470h1v1h-1zM968 471h1v1h-1zM969 472h1v2h-1zM970 474h1v1h-1zM971 475h1v1h-1zM972 476h1v1h-1zM973 477h1v1h-1zM974 478h1v1h-1zM975 479h1v1h-1zM976 480h2v1h-2zM978 481h1v1h-1zM979 482h2v1h-2zM981 483h2v1h-2zM983 484h18v1h-18zM1001 485h2v1h-2zM1003 486h15v1h-15zM1018 487h7v1h-7zM1025 486h2v1h-2zM1027 485h2v1h-2zM1029 484h2v1h-2zM1031 483h2v1h-2zM1033 482h2v1h-2zM1035 481h2v1h-2zM1037 480h2v1h-2zM1039 479h1v1h-1zM1040 478h1v1h-1zM1041 477h1v1h-1zM1042 476h1v1h-1zM1043 475h3v1h-3zM1046 474h3v1h-3zM1049 473h2v1h-2zM1051 472h3v1h-3zM1054 471h3v1h-3zM1057 470h2v1h-2zM1059 469h2v1h-2zM1061 468h2v1h-2zM1063 467h2v1h-2zM1065 466h2v1h-2zM1067 465h1v1h-1zM1068 464h2v1h-2zM1070 463h1v1h-1zM1071 462h1v1h-1zM1072 461h1v1h-1zM1073 459h1v2h-1zM1074 458h1v1h-1zM1075 457h1v1h-1zM1076 456h1v1h-1zM1077 454h1v2h-1zM1078 453h1v1h-1zM1079 452h1v1h-1zM1080 450h1v2h-1zM1081 449h1v1h-1zM1082 447h1v2h-1zM1083 446h1v1h-1zM1084 444h1v2h-1zM1085 443h1v1h-1zM1086 441h1v2h-1zM1087 440h1v1h-1zM1088 438h1v2h-1zM1089 437h1v1h-1zM1090 435h1v2h-1zM1091 434h1v1h-1zM1092 433h1v1h-1zM1093 432h1v1h-1zM1094 431h1v1h-1zM1095 430h1v1h-1zM1096 429h2v1h-2zM1098 428h1v1h-1zM1099 427h3v1h-3zM1102 426h4v1h-4zM1106 425h4v1h-4zM1110 424h3v1h-3zM1113 423h2v1h-2zM1115 422h3v1h-3zM1118 421h4v1h-4zM1122 420h15v1h-15zM1137 419h2v1h-2zM1139 418h3v1h-3zM1142 417h4v1h-4zM1146 418h4v1h-4zM1150 419h2v1h-2zM1152 420h2v1h-2zM1154 421h1v1h-1zM1155 422h1v1h-1zM1156 423h1v1h-1zM1157 424h1v1h-1zM1158 425h1v1h-1zM1159 426h1v1h-1zM1160 427h2v1h-2zM1162 428h1v1h-1zM1163 429h1v1h-1zM1164 430h2v1h-2zM1166 431h1v1h-1zM1167 432h1v1h-1zM1168 433h2v1h-2zM1170 434h1v1h-1zM1171 435h2v1h-2zM1173 436h2v1h-2zM1175 437h2v1h-2zM1177 438h2v1h-2zM1179 439h3v1h-3zM1182 440h4v1h-4zM1186 441h4v1h-4zM1190 442h4v1h-4zM1194 443h4v1h-4zM1198 444h2v1h-2zM1200 445h2v1h-2zM1202 446h1v1h-1zM1203 447h1v1h-1zM1204 448h2v1h-2zM1206 449h1v1h-1zM1207 450h2v1h-2zM1209 451h2v1h-2zM1211 452h10v1h-10zM1221 451h2v1h-2zM1223 450h1v1h-1zM1224 449h2v1h-2zM1226 448h1v1h-1zM1227 447h1v1h-1zM1228 446h2v1h-2zM1230 445h1v1h-1zM1231 444h2v1h-2zM1233 443h2v1h-2zM1235 442h1v1h-1zM1236 441h1v1h-1zM1237 440h1v1h-1zM1238 439h1v1h-1zM1239 438h1v1h-1zM1240 437h2v1h-2zM1242 436h1v1h-1zM1243 435h1v1h-1zM1244 434h2v1h-2zM1246 433h1v1h-1zM1247 432h3v1h-3zM1250 431h16v1h-16zM1266 430h6v1h-6zM1272 429h1v1h-1zM1273 428h1v1h-1zM1274 427h1v1h-1zM1275 426h1v1h-1zM1276 425h1v1h-1zM1277 424h1v1h-1zM1278 423h1v1h-1zM1279 422h1v1h-1zM1280 421h1v1h-1zM1281 420h1v1h-1zM1282 419h1v1h-1zM1283 418h1v1h-1zM1284 416h1v2h-1zM1285 415h1v1h-1zM1286 413h1v2h-1zM1287 412h1v1h-1zM1288 411h1v1h-1zM1289 409h1v2h-1zM1290 408h1v1h-1zM1291 407h1v1h-1zM1292 406h1v1h-1zM1293 404h1v2h-1zM1294 403h1v1h-1zM1295 402h1v1h-1zM1296 401h1v1h-1zM1297 400h1v1h-1zM1298 399h1v1h-1zM1299 398h1v1h-1zM1300 397h1v1h-1zM1301 396h1v1h-1zM1302 395h1v1h-1zM1303 394h2v1h-2zM1305 393h2v1h-2z"/>
<path fill="#ff0000" d="M7 208h2v1h-2zM9 207h2v1h-2zM11 206h2v1h-2zM13 207h2v1h-2zM15 208h1v1h-1zM16 207h2v1h-2zM18 206h1v1h-1zM19 205h1v1h-1zM20 204h2v1h-2zM22 203h1v1h-1zM23 202h1v1h-1zM24 200h1v2h-1zM25 199h1v1h-1zM26 197h1v2h-1zM27 196h1v1h-1zM28 195h1v1h-1zM29 193h1v2h-1zM30 192h1v1h-1zM31 190h1v2h-1zM32 188h1v2h-1zM33 186h1v2h-1zM34 184h1v2h-1zM35 183h1v1h-1zM36 181h1v2h-1zM37 179h1v2h-1zM38 177h1v2h-1zM39 176h3v1h-3zM42 175h3v1h-3zM45 174h2v1h-2zM47 173h3v1h-3zM50 174h4v1h-4zM54 175h3v1h-3zM57 174h2v1h-2zM59 173h1v1h-1zM60 172h1v1h-1zM61 171h1v1h-1zM62 170h1v1h-1zM63 169h1v1h-1zM64 168h1v1h-1zM65 166h1v2h-1zM66 165h1v1h-1zM67 164h1v1h-1zM68 162h1v2h-1zM69 160h1v2h-1zM70 158h1v2h-1zM71 157h1v1h-1zM72 156h1v1h-1zM73 155h1v1h-1zM74 154h1v1h-1zM75 153h1v1h-1zM76 152h1v1h-1zM77 151h1v1h-1zM78 150h1v1h-1zM79 149h3v1h-3zM82 148h7v1h-7zM89 149h2v1h-2zM91 150h1v1h-1zM92 151h1v1h-1zM93 152h1v1h-1zM94 153h1v1h-1zM95 154h3v1h-3zM98 153h3v1h-3zM101 154h2v1h-2zM103 155h2v1h-2zM105 156h2v1h-2zM107 157h1v1h-1zM108 158h2v1h-2zM110 159h1v1h-1zM111 160h1v1h-1zM112 161h1v1h-1zM113 162h1v1h-1zM114 163h1v1h-1zM115 164h1v1h-1zM116 165h1v1h-1zM117 166h1v2h-1zM118 168h1v1h-1zM119 169h1v1h-1zM120 170h1v2h-1zM121 172h1v1h-1zM122 173h1v2h-1zM123 175h1v1h-1zM124 176h1v2h-1zM125 178h1v1h-1zM126 179h1v2h-1zM127 181h2v1h-2zM129 182h2v1h-2zM131 183h1v1h-1zM132 184h2v1h-2zM134 185h1v1h-1zM135 186h2v1h-2zM137 187h2v1h-2zM139 188h2v1h-2zM141 187h2v1h-2zM143 186h1v1h-1zM144 185h1v1h-1zM145 184h1v1h-1zM146 183h1v1h-1zM147 182h1v1h-1zM148 181h1v1h-1zM149 180h1v1h-1zM150 179h1v1h-1zM151 178h1v1h-1zM152 177h2v1h-2zM154 176h1v1h-1zM155 175h2v1h-2zM157 174h2v1h-2zM159 173h3v1h-3zM162 172h6v1h-6zM168 173h2v1h-2zM170 174h1v1h-1zM171 175h3v1h-3zM174 176h2v1h-2zM176 177h1v2h-1zM177 179h1v2h-1zM178 181h1v2h-1zM179 183h1v1h-1zM180 184h1v2h-1zM181 186h1v1h-1zM182 187h1v2h-1zM183 189h1v2h-1zM184 191h1v2h-1zM185 193h1v2h-1zM186 195h1v2h-1zM187 197h1v2h-1zM188 199h1v2h-1zM189 201h1v2h-1zM190 203h1v2h-1zM191 205h1v2h-1zM192 207h1v2h-1zM193 209h1v2h-1zM194 211h1v2h-1zM195 213h1v3h-1zM196 216h1v2h-1zM197 218h1v2h-1zM198 220h1v2h-1zM199 222h1v3h-1zM200 225h1v2h-1zM201 227h1v2h-1zM202 229h1v2h-1zM203 231h1v2h-1zM204 233h1v2h-1zM205 235h1v2h-1zM206 237h1v2h-1zM207 239h1v1h-1zM208 240h1v1h-1zM209 241h1v1h-1zM210 242h1v1h-1zM211 243h1v1h-1zM212 244h1v1h-1zM213 245h1v1h-1zM214 246h1v1h-1zM215 247h2v1h-2zM217 248h2v1h-2zM219 249h3v1h-3zM222 250h4v1h-4zM226 249h3v1h-3zM229 248h2v1h-2zM231 247h1v1h-1zM232 245h1v2h-1zM233 244h1v1h-1zM234 242h1v2h-1zM235 241h1v1h-1zM236 240h1v1h-1zM237 238h1v2h-1zM238 237h1v1h-1zM239 236h1v1h-1zM240 235h1v1h-1zM241 233h1v2h-1zM242 232h1v1h-1zM243 231h1v1h-1zM244 230h1v1h-1zM245 228h1v2h-1zM246 227h1v1h-1zM247 226h1v1h-1zM248 225h2v1h-2zM250 224h1v1h-1zM251 223h7v1h-7zM258 222h2v1h-2zM260 223h1v2h-1zM261 225h1v1h-1zM262 226h1v2h-1zM263 228h1v1h-1zM264 229h1v2h-1zM265 231h1v1h-1zM266 232h1v2h-1zM267 234h1v1h-1zM268 235h1v1h-1zM269 236h1v2h-1zM270 238h1v1h-1zM271 239h1v1h-1zM272 240h1v2h-1zM273 242h1v1h-1zM274 243h1v2h-1zM275 245h1v1h-1zM276 246h1v1h-1zM277 247h1v1h-1zM278 248h1v1h-1zM279 249h2v1h-2zM281 250h2v1h-2zM283 251h2v1h-2zM285 252h2v1h-2zM287 253h1v1h-1zM288 254h2v1h-2zM290 255h1v1h-1zM291 256h1v1h-1zM292 257h1v1h-1zM293 258h1v1h-1zM294 259h1v1h-1zM295 260h1v1h-1zM296 261h2v1h-2zM298 262h1v1h-1zM299 263h7v1h-7zM306 262h2v1h-2zM308 261h2v1h-2zM310 260h1v1h-1zM311 259h2v1h-2zM313 260h2v1h-2zM315 261h1v1h-1zM316 260h1v1h-1zM317 259h1v1h-1zM318 258h1v1h-1zM319 257h1v1h-1zM320 256h1v1h-1zM321 255h1v1h-1zM322 254h1v1h-1zM323 253h2v1h-2zM325 252h2v1h-2zM327 251h2v1h-2zM329 250h2v1h-2zM331 249h1v1h-1zM332 250h2v1h-2zM334 251h1v1h-1zM335 252h1v1h-1zM336 253h1v1h-1zM337 254h1v1h-1zM338 255h1v1h-1zM339 256h1v1h-1zM340 257h1v1h-1zM341 258h1v2h-1zM342 260h1v1h-1zM343 261h1v1h-1zM344 262h1v2h-1zM345 264h1v2h-1zM346 266h1v2h-1zM347 268h1v1h-1zM348 269h1v2h-1zM349 271h1v2h-1zM350 273h1v2h-1zM351 275h1v1h-1zM352 276h1v1h-1zM353 277h1v2h-1zM354 279h1v1h-1zM355 280h1v1h-1zM356 281h1v2h-1zM357 283h1v2h-1zM358 285h1v2h-1zM359 287h1v1h-1zM360 288h1v2h-1zM361 290h1v2h-1zM362 292h1v2h-1zM363 294h1v2h-1zM364 296h1v2h-1zM365 298h1v2h-1zM366 300h1v2h-1zM367 302h3v1h-3zM370 303h4v1h-4zM374 304h2v1h-2zM376 305h2v1h-2zM378 306h1v1h-1zM379 307h3v1h-3zM382 308h2v1h-2zM384 307h2v1h-2zM386 306h1v1h-1zM387 305h1v1h-1zM388 304h2v1h-2zM390 303h1v1h-1zM391 302h1v1h-1zM392 301h1v1h-1zM393 300h1v1h-1zM394 299h1v1h-1zM395 298h1v1h-1zM396 297h1v1h-1zM397 295h1v2h-1zM398 294h1v1h-1zM399 293h1v1h-1zM400 292h1v1h-1zM401 290h1v2h-1zM402 289h1v1h-1zM403 288h2v1h-2zM405 287h2v1h-2zM407 286h7v1h-7zM414 285h3v1h-3zM417 284h2v1h-2zM419 283h5v1h-5zM424 284h1v1h-1zM425 285h1v1h-1zM426 286h1v1h-1zM427 287h1v1h-1zM428 288h1v2h-1zM429 290h1v2h-1zM430 292h1v2h-1zM431 294h1v1h-1zM432 295h1v2h-1zM433 297h1v1h-1zM434 298h1v2h-1zM435 300h1v1h-1zM436 301h1v2h-1zM437 303h1v1h-1zM438 304h1v2h-1zM439 306h1v2h-1zM440 308h1v2h-1zM441 310h1v2h-1zM442 312h1v2h-1zM443 314h1v1h-1zM444 315h1v1h-1zM445 316h1v2h-1zM446 318h1v1h-1zM447 319h1v1h-1zM448 320h2v1h-2zM450 321h1v1h-1zM451 322h1v1h-1zM452 323h1v2h-1zM453 325h1v1h-1zM454 326h1v2h-1zM455 328h1v1h-1zM456 329h1v2h-1zM457 331h1v1h-1zM458 332h1v2h-1zM459 334h2v1h-2zM461 335h2v1h-2zM463 336h2v1h-2zM465 337h2v1h-2zM467 338h1v1h-1zM468 339h1v1h-1zM469 340h1v1h-1zM470 341h1v1h-1zM471 342h1v1h-1zM472 343h2v1h-2zM474 344h1v1h-1zM475 345h3v1h-3zM478 344h2v1h-2zM480 343h2v1h-2zM482 342h1v1h-1zM483 341h1v1h-1zM484 340h1v1h-1zM485 338h1v2h-1zM486 337h1v1h-1zM487 336h1v1h-1zM488 335h1v1h-1zM489 334h1v1h-1zM490 333h1v1h-1zM491 332h1v1h-1zM492 331h2v1h-2zM494 330h1v1h-1zM495 329h2v1h-2zM497 328h2v1h-2zM499 327h3v1h-3zM502 328h2v1h-2zM504 329h1v1h-1zM505 330h1v2h-1zM506 332h1v1h-1zM507 333h3v1h-3zM510 334h4v1h-4zM514 335h3v1h-3zM517 336h2v1h-2zM519 337h2v1h-2zM521 338h2v1h-2zM523 339h3v1h-3zM526 340h8v1h-8zM534 341h2v1h-2zM536 342h2v1h-2zM538 343h1v1h-1zM539 344h1v1h-1zM540 345h2v1h-2zM542 346h1v1h-1zM543 347h1v1h-1zM544 348h1v1h-1zM545 349h1v2h-1zM546 351h1v1h-1zM547 352h1v1h-1zM548 353h1v1h-1zM549 354h1v1h-1zM550 355h1v1h-1zM551 356h1v1h-1zM552 357h2v1h-2zM554 358h1v1h-1zM555 359h5v1h-5zM560 358h2v1h-2zM562 357h1v1h-1zM563 356h1v1h-1zM564 355h1v1h-1zM565 354h1v1h-1zM566 353h1v1h-1zM567 352h1v1h-1zM568 351h1v1h-1zM569 350h1v1h-1zM570 349h1v1h-1zM571 348h1v1h-1zM572 346h1v2h-1zM573 344h1v2h-1zM574 342h1v2h-1zM575 340h1v2h-1zM576 338h1v2h-1zM577 336h1v2h-1zM578 334h1v2h-1zM579 331h1v3h-1zM580 329h1v2h-1zM581 326h1v3h-1zM582 324h1v2h-1zM583 322h1v2h-1zM584 320h1v2h-1zM585 319h1v1h-1zM586 317h1v2h-1zM587 316h1v1h-1zM588 315h1v1h-1zM589 313h1v2h-1zM590 312h1v1h-1zM591 311h1v1h-1zM592 309h1v2h-1zM593 307h1v2h-1zM594 305h1v2h-1zM595 304h1v1h-1zM596 303h1v1h-1zM597 301h1v2h-1zM598 300h1v1h-1zM599 299h1v1h-1zM600 298h1v1h-1zM601 296h1v2h-1zM602 295h1v1h-1zM603 294h1v1h-1zM604 293h2v1h-2zM606 292h1v1h-1zM607 291h1v1h-1zM608 290h1v1h-1zM609 288h1v2h-1zM610 287h1v1h-1zM611 286h3v1h-3zM614 285h4v1h-4zM618 284h3v1h-3zM621 283h2v1h-2zM623 282h1v1h-1zM624 281h1v1h-1zM625 279h1v2h-1zM626 278h1v1h-1zM627 277h1v1h-1zM628 276h1v1h-1zM629 275h1v1h-1zM630 274h1v1h-1zM631 273h1v1h-1zM632 272h1v1h-1zM633 271h1v1h-1zM634 270h1v1h-1zM635 269h2v1h-2zM637 268h2v1h-2zM639 267h1v1h-1zM640 266h1v1h-1zM641 265h1v1h-1zM642 264h1v1h-1zM643 263h1v1h-1zM644 262h2v1h-2zM646 261h1v1h-1zM647 260h1v1h-1zM648 259h1v1h-1zM649 258h1v1h-1zM650 257h1v1h-1zM651 256h1v1h-1zM652 255h1v1h-1zM653 253h1v2h-1zM654 252h1v1h-1zM655 251h1v1h-1zM656 250h1v1h-1zM657 248h1v2h-1zM658 247h1v1h-1zM659 246h1v1h-1zM660 245h1v1h-1zM661 243h1v2h-1zM662 242h1v1h-1zM663 241h2v1h-2zM665 240h2v1h-2zM667 239h1v1h-1zM668 238h1v1h-1zM669 236h1v2h-1zM670 235h1v1h-1zM671 234h5v1h-5zM676 235h2v1h-2zM678 236h1v1h-1zM679 237h1v1h-1zM680 238h1v2h-1zM681 240h1v2h-1zM682 242h1v2h-1zM683 244h1v2h-1zM684 246h1v2h-1zM685 248h1v2h-1zM686 250h1v2h-1zM687 252h1v2h-1zM688 254h1v2h-1zM689 256h1v2h-1zM690 258h1v2h-1zM691 260h1v1h-1zM692 261h1v2h-1zM693 263h1v1h-1zM694 264h1v2h-1zM695 266h1v2h-1zM696 268h1v2h-1zM697 270h1v2h-1zM698 272h1v2h-1zM699 274h1v1h-1zM700 275h1v1h-1zM701 276h1v2h-1zM702 278h1v1h-1zM703 279h1v1h-1zM704 280h1v2h-1zM705 282h1v1h-1zM706 283h1v2h-1zM707 285h1v2h-1zM708 287h1v2h-1zM709 289h1v2h-1zM710 291h1v2h-1zM711 293h1v2h-1zM712 295h1v1h-1zM713 296h1v1h-1zM714 297h1v1h-1zM715 298h1v1h-1zM716 299h1v1h-1zM717 300h1v1h-1zM718 301h1v1h-1zM719 302h1v1h-1zM720 303h2v1h-2zM722 304h1v1h-1zM723 305h1v1h-1zM724 306h1v1h-1zM725 307h1v1h-1zM726 308h1v1h-1zM727 309h5v1h-5zM732 310h2v1h-2zM734 311h1v1h-1zM735 312h1v1h-1zM736 313h1v1h-1zM737 314h1v1h-1zM738 315h1v1h-1zM739 316h1v1h-1zM740 317h2v1h-2zM742 318h1v1h-1zM743 319h1v1h-1zM744 320h1v2h-1zM745 322h1v2h-1zM746 324h1v2h-1zM747 326h1v2h-1zM748 328h1v2h-1zM749 330h1v2h-1zM750 332h1v2h-1zM751 334h1v1h-1zM752 335h1v2h-1zM753 337h1v1h-1zM754 338h1v2h-1zM755 340h1v1h-1zM756 341h1v2h-1zM757 343h1v1h-1zM758 344h1v2h-1zM759 346h1v2h-1zM760 348h1v2h-1zM761 350h1v2h-1zM762 352h1v2h-1zM763 354h1v2h-1zM764 356h1v2h-1zM765 358h1v2h-1zM766 360h1v2h-1zM767 362h1v1h-1zM768 363h1v2h-1zM769 365h1v1h-1zM770 366h1v2h-1zM771 368h1v1h-1zM772 369h1v2h-1zM773 371h1v2h-1zM774 373h1v2h-1zM775 375h3v1h-3zM778 376h4v1h-4zM782 377h4v1h-4zM786 376h3v1h-3zM789 375h2v1h-2zM791 374h1v1h-1zM792 373h1v1h-1zM793 371h1v2h-1zM794 370h1v1h-1zM795 369h1v1h-1zM796 368h2v1h-2zM798 367h1v1h-1zM799 366h1v1h-1zM800 365h1v1h-1zM801 364h1v1h-1zM802 363h1v1h-1zM803 362h1v1h-1zM804 361h2v1h-2zM806 360h1v1h-1zM807 359h6v1h-6zM813 360h2v1h-2zM815 361h2v1h-2zM817 362h2v1h-2zM819 363h2v1h-2zM821 362h2v1h-2zM823 361h3v1h-3zM826 362h4v1h-4zM830 363h2v1h-2zM832 364h1v1h-1zM833 365h1v2h-1zM834 367h1v1h-1zM835 368h1v1h-1zM836 369h1v2h-1zM837 371h1v1h-1zM838 372h1v2h-1zM839 374h1v1h-1zM840 375h1v1h-1zM841 376h1v2h-1zM842 378h1v1h-1zM843 379h1v1h-1zM844 380h2v1h-2zM846 381h1v1h-1zM847 382h1v1h-1zM848 383h1v2h-1zM849 385h1v1h-1zM850 386h1v2h-1zM851 388h1v1h-1zM852 389h1v2h-1zM853 391h1v1h-1zM854 392h1v2h-1zM855 394h1v1h-1zM856 395h1v2h-1zM857 397h1v2h-1zM858 399h1v2h-1zM859 401h1v1h-1zM860 402h1v2h-1zM861 404h1v2h-1zM862 406h1v2h-1zM863 408h1v2h-1zM864 410h1v2h-1zM865 412h1v2h-1zM866 414h1v2h-1zM867 416h1v1h-1zM868 417h1v2h-1zM869 419h1v2h-1zM870 421h1v2h-1zM871 423h1v1h-1zM872 424h1v2h-1zM873 426h1v2h-1zM874 428h1v2h-1zM875 430h1v1h-1zM876 431h1v2h-1zM877 433h1v2h-1zM878 435h1v2h-1zM879 437h1v1h-1zM880 438h1v1h-1zM881 439h1v1h-1zM882 440h1v1h-1zM883 441h2v1h-2zM885 442h2v1h-2zM887 443h1v1h-1zM888 444h2v1h-2zM890 445h1v1h-1zM891 446h1v1h-1zM892 447h1v1h-1zM893 448h1v1h-1zM894 449h1v1h-1zM895 450h1v1h-1zM896 451h1v1h-1zM897 452h1v1h-1zM898 453h1v1h-1zM899 454h1v1h-1zM900 455h1v2h-1zM901 457h1v1h-1zM902 458h1v2h-1zM903 460h1v1h-1zM904 461h1v2h-1zM905 463h1v1h-1zM906 464h1v2h-1zM907 466h3v1h-3zM910 467h12v1h-12zM922 466h2v1h-2zM924 465h1v1h-1zM925 464h1v1h-1zM926 463h1v1h-1zM927 462h1v1h-1zM928 460h1v2h-1zM929 459h1v1h-1zM930 457h1v2h-1zM931 456h1v1h-1zM932 455h1v1h-1zM933 454h1v1h-1zM934 453h1v1h-1zM935 452h3v1h-3zM938 453h4v1h-4zM942 454h2v1h-2zM944 455h2v1h-2zM946 456h1v1h-1zM947 457h2v1h-2zM949 458h2v1h-2zM951 459h1v1h-1zM952 460h1v2h-1zM953 462h1v1h-1zM954 463h1v2h-1zM955 465h1v1h-1zM956 466h1v1h-1zM957 467h1v2h-1zM958 469h1v1h-1zM959 470h1v1h-1zM960 471h1v1h-1zM961 472h1v1h-1zM962 473h1v1h-1zM963 474h1v1h-1zM964 475h1v2h-1zM965 477h1v2h-1zM966 479h1v2h-1zM967 481h1v2h-1zM968 483h1v2h-1zM969 485h1v2h-1zM970 487h1v2h-1zM971 489h1v3h-1zM972 492h1v2h-1zM973 494h1v2h-1zM974 496h1v2h-1zM975 498h2v1h-2zM977 499h2v1h-2zM979 500h1v1h-1zM980 501h1v1h-1zM981 502h1v1h-1zM982 503h1v1h-1zM983 504h1v1h-1zM984 505h1v1h-1zM985 506h1v2h-1zM986 508h1v1h-1zM987 509h1v1h-1zM988 510h1v1h-1zM989 511h1v1h-1zM990 512h1v1h-1zM991 513h3v1h-3zM994 514h2v1h-2zM996 515h2v1h-2zM998 516h1v1h-1zM999 517h3v1h-3zM1002 518h4v1h-4zM1006 517h2v1h-2zM1008 516h1v1h-1zM1009 514h1v2h-1zM1010 513h1v1h-1zM1011 512h1v1h-1zM1012 511h1v1h-1zM1013 509h1v2h-1zM1014 508h1v1h-1zM1015 507h1v1h-1zM1016 506h1v1h-1zM1017 504h1v2h-1zM1018 503h1v1h-1zM1019 502h1v1h-1zM1020 501h1v1h-1zM1021 499h1v2h-1zM1022 498h1v1h-1zM1023 496h1v2h-1zM1024 494h1v2h-1zM1025 491h1v3h-1zM1026 489h1v2h-1zM1027 486h1v3h-1zM1028 484h1v2h-1zM1029 481h1v3h-1zM1030 479h1v2h-1zM1031 476h1v3h-1zM1032 473h1v3h-1zM1033 470h1v3h-1zM1034 467h1v3h-1zM1035 464h1v3h-1zM1036 462h1v2h-1zM1037 460h1v2h-1zM1038 458h1v2h-1zM1039 455h1v3h-1zM1040 453h1v2h-1zM1041 451h1v2h-1zM1042 449h1v2h-1zM1043 446h1v3h-1zM1044 444h1v2h-1zM1045 442h1v2h-1zM1046 440h1v2h-1zM1047 438h1v2h-1zM1048 436h1v2h-1zM1049 434h1v2h-1zM1050 432h1v2h-1zM1051 430h1v2h-1zM1052 428h1v2h-1zM1053 426h1v2h-1zM1054 424h1v2h-1zM1055 423h1v1h-1zM1056 422h1v1h-1zM1057 420h1v2h-1zM1058 419h1v1h-1zM1059 418h1v1h-1zM1060 417h1v1h-1zM1061 416h1v1h-1zM1062 415h1v1h-1zM1063 414h2v1h-2zM1065 413h2v1h-2zM1067 412h1v1h-1zM1068 411h1v1h-1zM1069 410h1v1h-1zM1070 409h1v1h-1zM1071 408h1v1h-1zM1072 406h1v2h-1zM1073 405h1v1h-1zM1074 403h1v2h-1zM1075 402h1v1h-1zM1076 400h1v2h-1zM1077 399h1v1h-1zM1078 397h1v2h-1zM1079 396h1v1h-1zM1080 395h1v1h-1zM1081 393h1v2h-1zM1082 392h1v1h-1zM1083 391h2v1h-2zM1085 390h2v1h-2zM1087 389h5v1h-5zM1092 390h1v1h-1zM1093 391h1v2h-1zM1094 393h1v1h-1zM1095 394h1v1h-1zM1096 395h2v1h-2zM1098 396h1v1h-1zM1099 397h1v1h-1zM1100 398h1v1h-1zM1101 399h1v2h-1zM1102 401h1v1h-1zM1103 402h1v1h-1zM1104 403h1v2h-1zM1105 405h1v1h-1zM1106 406h1v2h-1zM1107 408h1v1h-1zM1108 409h1v1h-1zM1109 410h1v1h-1zM1110 411h1v1h-1zM1111 412h2v1h-2zM1113 413h2v1h-2zM1115 414h1v1h-1zM1116 415h1v1h-1zM1117 416h1v1h-1zM1118 417h1v1h-1zM1119 418h1v1h-1zM1120 419h1v1h-1zM1121 420h1v1h-1zM1122 421h1v1h-1zM1123 422h1v1h-1zM1124 423h1v2h-1zM1125 425h1v1h-1zM1126 426h1v2h-1zM1127 428h1v1h-1zM1128 429h1v1h-1zM1129 430h1v1h-1zM1130 431h1v1h-1zM1131 432h1v1h-1zM1132 433h1v2h-1zM1133 435h1v1h-1zM1134 436h1v2h-1zM1135 438h1v1h-1zM1136 439h1v1h-1zM1137 440h1v2h-1zM1138 442h1v1h-1zM1139 443h1v1h-1zM1140 444h1v1h-1zM1141 445h1v1h-1zM1142 446h1v1h-1zM1143 447h1v1h-1zM1144 448h1v1h-1zM1145 449h1v2h-1zM1146 451h1v1h-1zM1147 452h6v1h-6zM1153 453h2v1h-2zM1155 454h3v1h-3zM1158 455h4v1h-4zM1162 456h7v1h-7zM1169 457h2v1h-2zM1171 458h3v1h-3zM1174 459h4v1h-4zM1178 458h4v1h-4zM1182 457h4v1h-4zM1186 456h3v1h-3zM1189 455h2v1h-2zM1191 454h7v1h-7zM1198 453h4v1h-4zM1202 454h4v1h-4zM1206 455h3v1h-3zM1209 454h2v1h-2zM1211 453h1v1h-1zM1212 452h2v1h-2zM1214 451h1v1h-1zM1215 450h1v1h-1zM1216 449h1v1h-1zM1217 448h1v1h-1zM1218 447h1v1h-1zM1219 446h1v1h-1zM1220 444h1v2h-1zM1221 443h1v1h-1zM1222 441h1v2h-1zM1223 440h1v1h-1zM1224 438h1v2h-1zM1225 436h1v2h-1zM1226 434h1v2h-1zM1227 433h1v1h-1zM1228 431h1v2h-1zM1229 429h1v2h-1zM1230 427h1v2h-1zM1231 426h1v1h-1zM1232 425h1v1h-1zM1233 423h1v2h-1zM1234 422h1v1h-1zM1235 420h1v2h-1zM1236 418h1v2h-1zM1237 416h1v2h-1zM1238 414h1v2h-1zM1239 413h1v1h-1zM1240 412h2v1h-2zM1242 411h1v1h-1zM1243 410h2v1h-2zM1245 409h2v1h-2zM1247 408h6v1h-6zM1253 409h2v1h-2zM1255 410h2v1h-2zM1257 409h2v1h-2zM1259 408h2v1h-2zM1261 407h2v1h-2zM1263 406h3v1h-3zM1266 405h6v1h-6zM1272 404h1v1h-1zM1273 402h1v2h-1zM1274 401h1v1h-1zM1275 400h1v1h-1zM1276 399h2v1h-2zM1278 398h1v1h-1zM1279 397h1v1h-1zM1280 396h1v1h-1zM1281 395h1v1h-1zM1282 394h1v1h-1zM1283 393h1v1h-1zM1284 391h1v2h-1zM1285 390h1v1h-1zM1286 388h1v2h-1zM1287 387h1v1h-1zM1288 386h1v1h-1zM1289 385h1v1h-1zM1290 384h1v1h-1zM1291 383h2v1h-2zM1293 382h2v1h-2zM1295 381h2v1h-2zM1297 380h2v1h-2zM1299 379h1v1h-1zM1300 378h2v1h-2zM1302 377h1v1h-1zM1303 376h1v1h-1zM1304 375h1v1h-1zM1305 374h1v1h-1zM1306 373h1v1h-1z"/>
<path fill="#ffa500" d="M7 184h1v2h-1zM8 182h1v2h-1zM9 180h1v2h-1zM10 178h1v2h-1zM11 177h1v1h-1zM12 178h2v1h-2zM14 179h1v1h-1zM15 180h2v1h-2zM17 181h2v1h-2zM19 182h1v1h-1zM20 183h2v1h-2zM22 184h2v1h-2zM23 185h1v1h-1zM24 181h1v3h-1zM25 179h1v2h-1zM26 176h1v3h-1zM27 174h1v2h-1zM28 173h1v1h-1zM29 172h1v1h-1zM30 171h1v1h-1zM31 170h1v1h-1zM32 169h1v1h-1zM33 167h1v2h-1zM34 166h1v1h-1zM35 164h1v2h-1zM36 162h1v2h-1zM37 160h1v2h-1zM38 158h1v2h-1zM39 156h1v2h-1zM40 158h1v2h-1zM41 160h1v2h-1zM42 162h1v2h-1zM43 164h1v1h-1zM44 165h1v2h-1zM45 167h1v1h-1zM46 168h1v2h-1zM47 170h1v1h-1zM48 171h1v1h-1zM49 172h1v1h-1zM50 173h1v1h-1zM51 174h1v1h-1zM52 175h1v1h-1zM53 176h1v2h-1zM54 178h1v1h-1zM55 179h5v1h-5zM59 178h1v1h-1zM60 175h1v3h-1zM61 171h1v4h-1zM62 168h1v3h-1zM63 164h1v4h-1zM64 160h1v4h-1zM65 155h1v5h-1zM66 151h1v4h-1zM67 146h1v5h-1zM68 142h1v4h-1zM69 138h1v4h-1zM70 134h1v4h-1zM71 130h1v4h-1zM72 127h1v3h-1zM73 124h1v3h-1zM74 121h1v3h-1zM75 119h5v1h-5zM75 120h1v1h-1zM80 118h1v1h-1zM81 117h1v1h-1zM82 116h2v1h-2zM83 115h1v1h-1zM84 117h1v3h-1zM85 120h1v2h-1zM86 122h1v3h-1zM87 125h1v4h-1zM88 129h1v5h-1zM89 134h1v4h-1zM90 138h1v5h-1zM91 143h1v4h-1zM92 147h1v4h-1zM93 151h1v4h-1zM94 155h1v4h-1zM95 159h1v3h-1zM96 162h1v4h-1zM97 166h1v4h-1zM98 170h1v4h-1zM99 174h1v3h-1zM100 177h1v4h-1zM101 181h1v4h-1zM102 185h1v4h-1zM103 189h1v3h-1zM104 192h1v3h-1zM105 195h1v3h-1zM106 198h1v3h-1zM107 201h1v2h-1zM108 203h1v1h-1zM109 204h1v2h-1zM110 206h1v1h-1zM111 207h3v1h-3zM114 208h4v1h-4zM118 209h2v1h-2zM120 208h1v1h-1zM121 207h1v1h-1zM122 206h1v1h-1zM123 204h1v2h-1zM124 202h1v2h-1zM125 200h1v2h-1zM126 198h1v2h-1zM127 196h1v2h-1zM128 193h1v3h-1zM129 190h1v3h-1zM130 187h1v3h-1zM131 185h1v2h-1zM132 184h1v1h-1zM133 182h1v2h-1zM134 181h1v1h-1zM135 179h1v2h-1zM136 176h1v3h-1zM137 174h1v2h-1zM138 171h1v3h-1zM139 168h1v3h-1zM140 165h1v3h-1zM141 162h1v3h-1zM142 159h1v3h-1zM143 156h1v3h-1zM144 154h1v2h-1zM145 152h1v2h-1zM146 150h1v2h-1zM147 149h1v1h-1zM148 148h2v1h-2zM150 147h1v1h-1zM151 146h1v1h-1zM152 145h2v1h-2zM154 144h1v1h-1zM155 143h1v1h-1zM156 144h2v1h-2zM158 145h1v1h-1zM159 146h1v2h-1zM160 148h1v4h-1zM161 152h1v4h-1zM162 156h1v4h-1zM163 160h1v4h-1zM164 164h1v4h-1zM165 168h1v4h-1zM166 172h1v4h-1zM167 176h1v5h-1zM168 181h1v5h-1zM169 186h1v5h-1zM170 191h1v5h-1zM171 196h1v5h-1zM172 201h1v4h-1zM173 205h1v4h-1zM174 209h1v4h-1zM175 213h1v4h-1zM176 217h1v5h-1zM177 222h1v5h-1zM178 227h1v5h-1zM179 232h1v4h-1zM180 236h1v3h-1zM181 239h1v3h-1zM182 242h1v3h-1zM183 245h1v3h-1zM184 248h1v2h-1zM185 250h1v3h-1zM186 253h1v2h-1zM187 255h1v3h-1zM188 258h1v2h-1zM189 260h1v2h-1zM190 262h1v2h-1zM191 264h1v2h-1zM192 266h1v2h-1zM193 268h1v2h-1zM194 270h1v2h-1zM195 272h3v1h-3zM195 273h1v1h-1zM198 271h1v1h-1zM199 270h3v1h-3zM202 269h2v1h-2zM204 267h1v2h-1zM205 265h1v2h-1zM206 263h1v2h-1zM207 261h1v2h-1zM208 258h1v3h-1zM209 256h1v2h-1zM210 253h1v3h-1zM211 250h1v3h-1zM212 247h1v3h-1zM213 243h1v4h-1zM214 240h1v3h-1zM215 238h1v2h-1zM216 236h1v2h-1zM217 235h1v1h-1zM218 233h1v2h-1zM219 232h1v1h-1zM220 231h1v1h-1zM221 229h1v2h-1zM222 228h1v1h-1zM223 227h2v1h-2zM225 226h2v1h-2zM227 225h3v1h-3zM230 224h2v1h-2zM232 222h1v2h-1zM233 221h1v1h-1zM234 219h1v2h-1zM235 218h1v1h-1zM236 216h1v2h-1zM237 214h1v2h-1zM238 212h1v2h-1zM239 210h1v2h-1zM240 208h1v2h-1zM241 206h1v2h-1zM242 204h1v2h-1zM243 203h3v1h-3zM246 202h2v1h-2zM248 203h1v1h-1zM249 204h1v2h-1zM250 206h1v1h-1zM251 207h1v2h-1zM252 209h1v3h-1zM253 212h1v3h-1zM254 215h1v3h-1zM255 218h1v3h-1zM256 221h1v2h-1zM257 223h1v3h-1zM258 226h1v2h-1zM259 228h1v5h-1zM260 233h1v6h-1zM261 239h1v6h-1zM262 245h1v6h-1zM263 251h1v5h-1zM264 256h1v4h-1zM265 260h1v5h-1zM266 265h1v4h-1zM267 269h1v4h-1zM268 273h1v3h-1zM269 276h1v3h-1zM270 279h1v3h-1zM271 282h1v3h-1zM272 285h1v3h-1zM273 288h1v4h-1zM274 292h1v3h-1zM275 295h1v2h-1zM276 297h1v2h-1zM277 299h1v1h-1zM278 300h1v1h-1zM278 301h2v1h-2zM279 302h1v1h-1zM280 298h1v3h-1zM281 295h1v3h-1zM282 292h1v3h-1zM283 289h1v3h-1zM284 286h1v3h-1zM285 284h1v2h-1zM286 281h1v3h-1zM287 278h1v3h-1zM288 275h1v3h-1zM289 272h1v3h-1zM290 269h1v3h-1zM291 266h1v3h-1zM292 262h1v4h-1zM293 258h1v4h-1zM294 254h1v4h-1zM295 251h1v3h-1zM296 249h1v2h-1zM297 247h1v2h-1zM298 245h1v2h-1zM299 243h1v2h-1zM300 241h1v2h-1zM301 240h1v1h-1zM302 238h1v2h-1zM303 237h1v1h-1zM304 235h1v2h-1zM305 233h1v2h-1zM306 231h1v2h-1zM307 230h1v1h-1zM308 229h1v1h-1zM309 227h1v2h-1zM310 226h1v1h-1zM311 225h1v1h-1zM312 226h1v2h-1zM313 228h1v1h-1zM314 229h1v2h-1zM315 231h1v1h-1zM316 232h1v2h-1zM317 234h1v1h-1zM318 235h1v2h-1zM319 237h1v1h-1zM320 238h1v1h-1zM321 239h1v1h-1zM322 240h1v1h-1zM323 241h1v2h-1zM324 243h1v3h-1zM325 246h1v3h-1zM326 249h1v3h-1zM327 252h1v4h-1zM328 256h1v4h-1zM329 260h1v4h-1zM330 264h1v4h-1zM331 268h1v3h-1zM332 271h1v2h-1zM333 273h1v2h-1zM334 275h1v2h-1zM335 277h1v2h-1zM336 279h1v2h-1zM337 281h1v3h-1zM338 284h1v2h-1zM339 286h1v4h-1zM340 290h1v4h-1zM341 294h1v4h-1zM342 298h1v4h-1zM343 302h1v3h-1zM344 305h1v3h-1zM345 308h1v2h-1zM346 310h1v3h-1zM347 313h1v3h-1zM348 316h1v2h-1zM349 318h1v3h-1zM350 321h1v2h-1zM351 323h1v1h-1zM351 324h2v1h-2zM353 323h2v1h-2zM355 322h2v1h-2zM357 323h2v1h-2zM359 324h6v1h-6zM365 323h2v1h-2zM367 321h1v2h-1zM368 318h1v3h-1zM369 316h1v2h-1zM370 313h1v3h-1zM371 311h1v2h-1zM372 309h1v2h-1zM373 308h1v1h-1zM374 306h1v2h-1zM375 304h1v2h-1zM376 302h1v2h-1zM377 300h1v2h-1zM378 298h1v2h-1zM379 297h1v1h-1zM380 295h1v2h-1zM381 294h1v1h-1zM382 292h1v2h-1zM383 290h1v2h-1zM384 287h1v3h-1zM385 283h1v4h-1zM386 280h1v3h-1zM387 278h1v2h-1zM388 277h1v1h-1zM389 275h1v2h-1zM390 274h1v1h-1zM391 273h1v1h-1zM392 272h1v1h-1zM393 271h1v1h-1zM394 270h1v1h-1zM395 269h1v1h-1zM396 268h1v1h-1zM397 267h1v1h-1zM398 266h1v1h-1zM399 265h1v1h-1zM400 263h1v2h-1zM401 262h1v1h-1zM402 260h2v1h-2zM402 261h1v1h-1zM403 259h1v1h-1zM404 261h1v2h-1zM405 263h1v3h-1zM406 266h1v2h-1zM407 268h1v3h-1zM408 271h1v2h-1zM409 273h1v3h-1zM410 276h1v2h-1zM411 278h1v3h-1zM412 281h1v2h-1zM413 283h1v2h-1zM414 285h1v2h-1zM415 287h1v2h-1zM416 289h1v2h-1zM417 291h1v1h-1zM418 292h1v2h-1zM419 294h1v2h-1zM420 296h1v3h-1zM421 299h1v4h-1zM422 303h1v3h-1zM423 306h1v2h-1zM424 308h1v2h-1zM425 310h1v2h-1zM426 312h1v2h-1zM427 314h1v2h-1zM428 316h1v3h-1zM429 319h1v4h-1zM430 323h1v3h-1zM431 326h1v3h-1zM432 329h1v4h-1zM433 333h1v3h-1zM434 336h1v4h-1zM435 340h1v4h-1zM436 344h1v4h-1zM437 348h1v4h-1zM438 352h1v4h-1zM439 356h1v2h-1zM440 358h1v2h-1zM441 360h1v2h-1zM442 362h1v2h-1zM443 364h3v1h-3zM446 363h2v1h-2zM447 361h1v2h-1zM448 357h1v4h-1zM449 353h1v4h-1zM450 349h1v4h-1zM451 347h1v2h-1zM452 346h1v1h-1zM453 344h1v2h-1zM454 343h1v1h-1zM455 342h1v1h-1zM456 341h1v1h-1zM457 339h1v2h-1zM458 338h1v1h-1zM459 337h1v1h-1zM460 336h1v1h-1zM461 334h1v2h-1zM462 333h1v1h-1zM463 332h3v1h-3zM466 333h2v1h-2zM467 334h1v1h-1zM468 335h1v2h-1zM469 337h1v3h-1zM470 340h1v2h-1zM471 342h3v1h-3zM471 343h1v1h-1zM474 341h1v1h-1zM475 340h1v1h-1zM476 338h1v2h-1zM477 337h1v1h-1zM478 335h1v2h-1zM479 334h1v1h-1zM480 332h1v2h-1zM481 330h1v2h-1zM482 328h1v2h-1zM483 327h1v1h-1zM484 326h1v1h-1zM485 324h1v2h-1zM486 323h1v1h-1zM487 321h1v2h-1zM488 319h1v2h-1zM489 317h1v2h-1zM490 315h1v2h-1zM491 314h3v1h-3zM494 313h2v1h-2zM496 314h1v1h-1zM497 315h1v1h-1zM498 316h1v1h-1zM499 317h1v2h-1zM500 319h1v2h-1zM501 321h1v2h-1zM502 323h1v2h-1zM503 325h1v3h-1zM504 328h1v2h-1zM505 330h1v3h-1zM506 333h1v2h-1zM507 335h1v3h-1zM508 338h1v3h-1zM509 341h1v2h-1zM510 343h1v3h-1zM511 346h1v2h-1zM512 348h1v2h-1zM513 350h1v1h-1zM514 351h1v2h-1zM515 353h1v2h-1zM516 355h1v2h-1zM517 357h1v2h-1zM518 359h1v2h-1zM519 361h1v1h-1zM520 362h2v1h-2zM522 363h1v1h-1zM523 364h3v1h-3zM526 363h2v1h-2zM528 361h1v2h-1zM529 360h1v1h-1zM530 358h1v2h-1zM531 357h1v1h-1zM532 355h1v2h-1zM533 354h1v1h-1zM534 352h1v2h-1zM535 351h1v1h-1zM536 350h1v1h-1zM537 348h1v2h-1zM538 347h1v1h-1zM539 346h1v1h-1zM540 345h2v1h-2zM542 344h1v1h-1zM543 343h1v1h-1zM544 344h1v1h-1zM545 345h1v2h-1zM546 347h1v1h-1zM547 348h1v2h-1zM548 350h1v2h-1zM549 352h1v2h-1zM550 354h1v2h-1zM551 356h1v3h-1zM552 359h1v2h-1zM553 361h1v2h-1zM554 363h1v2h-1zM555 365h1v2h-1zM556 367h2v1h-2zM558 368h1v1h-1zM559 369h1v1h-1zM560 368h1v1h-1zM561 366h1v2h-1zM562 365h1v1h-1zM563 362h1v3h-1zM564 358h1v4h-1zM565 354h1v4h-1zM566 350h1v4h-1zM567 347h1v3h-1zM568 343h1v4h-1zM569 339h1v4h-1zM570 335h1v4h-1zM571 331h1v4h-1zM572 325h1v6h-1zM573 320h1v5h-1zM574 314h1v6h-1zM575 309h1v5h-1zM576 303h1v6h-1zM577 297h1v6h-1zM578 291h1v6h-1zM579 286h1v5h-1zM580 281h1v5h-1zM581 275h1v6h-1zM582 270h1v5h-1zM583 266h1v4h-1zM584 263h1v3h-1zM585 261h1v2h-1zM586 258h1v3h-1zM587 255h1v3h-1zM588 252h1v3h-1zM589 250h1v2h-1zM590 247h1v3h-1zM591 245h1v2h-1zM592 244h2v1h-2zM594 243h2v1h-2zM595 242h1v1h-1zM596 244h1v2h-1zM597 246h1v2h-1zM598 248h1v2h-1zM599 250h1v3h-1zM600 253h1v5h-1zM601 258h1v4h-1zM602 262h1v5h-1zM603 267h1v5h-1zM604 272h1v4h-1zM605 276h1v4h-1zM606 280h1v4h-1zM607 284h1v3h-1zM608 287h1v3h-1zM609 290h1v3h-1zM610 293h1v3h-1zM611 296h1v4h-1zM612 300h1v4h-1zM613 304h1v5h-1zM614 309h1v4h-1zM615 313h1v4h-1zM616 317h1v2h-1zM617 319h1v2h-1zM618 321h1v2h-1zM619 323h1v2h-1zM620 321h1v2h-1zM621 318h1v3h-1zM622 316h1v2h-1zM623 312h1v4h-1zM624 307h1v5h-1zM625 303h1v4h-1zM626 298h1v5h-1zM627 293h1v5h-1zM628 288h1v5h-1zM629 283h1v5h-1zM630 278h1v5h-1zM631 272h1v6h-1zM632 264h1v8h-1zM633 257h1v7h-1zM634 249h1v8h-1zM635 242h1v7h-1zM636 236h1v6h-1zM637 229h1v7h-1zM638 223h1v6h-1zM639 217h1v6h-1zM640 213h1v4h-1zM641 209h1v4h-1zM642 205h1v4h-1zM643 203h1v2h-1zM644 201h1v2h-1zM645 200h1v1h-1zM646 198h1v2h-1zM647 197h3v1h-3zM650 196h3v1h-3zM653 197h2v1h-2zM655 198h1v2h-1zM656 200h1v3h-1zM657 203h1v3h-1zM658 206h1v3h-1zM659 209h1v3h-1zM660 212h1v3h-1zM661 215h1v4h-1zM662 219h1v3h-1zM663 222h1v3h-1zM664 225h1v4h-1zM665 229h1v4h-1zM666 233h1v4h-1zM667 237h1v3h-1zM668 240h1v4h-1zM669 244h1v3h-1zM670 247h1v4h-1zM671 251h1v5h-1zM672 256h1v6h-1zM673 262h1v6h-1zM674 268h1v6h-1zM675 274h1v4h-1zM676 278h1v3h-1zM677 281h1v4h-1zM678 285h1v3h-1zM679 288h1v3h-1zM680 291h1v4h-1zM681 295h1v3h-1zM682 298h1v4h-1zM683 302h1v3h-1zM684 305h1v2h-1zM685 307h1v3h-1zM686 310h1v2h-1zM687 312h1v2h-1zM688 314h1v1h-1zM689 315h1v1h-1zM690 316h1v1h-1zM691 317h1v1h-1zM692 315h1v2h-1zM693 313h1v2h-1zM694 311h1v2h-1zM695 310h1v1h-1zM696 309h1v1h-1zM697 307h1v2h-1zM698 306h1v1h-1zM699 304h1v2h-1zM700 302h1v2h-1zM701 299h1v3h-1zM702 297h1v2h-1zM703 295h1v2h-1zM704 293h1v2h-1zM705 291h1v2h-1zM706 289h1v2h-1zM707 288h1v1h-1zM708 289h1v2h-1zM709 291h1v2h-1zM710 293h1v2h-1zM711 295h1v1h-1zM712 296h1v1h-1zM713 297h1v1h-1zM714 298h1v1h-1zM715 299h1v1h-1zM716 300h1v1h-1zM717 301h1v1h-1zM718 302h1v1h-1zM719 303h1v2h-1zM720 305h1v2h-1zM721 307h1v2h-1zM722 309h1v2h-1zM723 311h1v1h-1zM724 312h1v2h-1zM725 314h1v2h-1zM726 316h1v2h-1zM727 318h3v1h-3zM730 317h2v1h-2zM731 318h1v1h-1zM732 319h1v3h-1zM733 322h1v3h-1zM734 325h1v3h-1zM735 328h1v3h-1zM736 331h1v3h-1zM737 334h1v4h-1zM738 338h1v3h-1zM739 341h1v3h-1zM740 344h1v2h-1zM741 346h1v3h-1zM742 349h1v2h-1zM743 351h1v3h-1zM744 354h1v4h-1zM745 358h1v4h-1zM746 362h1v4h-1zM747 366h1v3h-1zM748 369h1v3h-1zM749 372h1v4h-1zM750 376h1v3h-1zM751 379h1v1h-1zM751 380h2v1h-2zM753 381h2v1h-2zM755 382h3v1h-3zM758 381h2v1h-2zM760 382h1v1h-1zM761 383h1v1h-1zM762 384h1v1h-1zM763 385h1v2h-1zM764 387h1v2h-1zM765 389h1v2h-1zM766 391h1v2h-1zM767 393h1v1h-1zM767 394h2v1h-2zM769 395h2v1h-2zM771 396h1v1h-1zM772 397h1v1h-1zM773 398h1v2h-1zM774 400h1v1h-1zM775 401h1v1h-1zM776 399h1v2h-1zM777 397h1v2h-1zM778 395h1v2h-1zM779 393h1v2h-1zM780 391h1v2h-1zM781 388h1v3h-1zM782 386h1v2h-1zM783 381h1v5h-1zM784 375h1v6h-1zM785 368h1v7h-1zM786 362h1v6h-1zM787 357h1v5h-1zM788 353h1v4h-1zM789 350h1v3h-1zM790 346h1v4h-1zM791 342h1v4h-1zM792 338h1v4h-1zM793 334h1v4h-1zM794 330h1v4h-1zM795 327h2v1h-2zM795 328h1v2h-1zM797 326h2v1h-2zM799 325h1v1h-1zM800 324h2v1h-2zM802 323h2v1h-2zM803 322h1v1h-1zM804 324h1v2h-1zM805 326h1v2h-1zM806 328h1v2h-1zM807 330h1v2h-1zM808 332h1v2h-1zM809 334h1v3h-1zM810 337h1v2h-1zM811 339h1v4h-1zM812 343h1v4h-1zM813 347h1v5h-1zM814 352h1v4h-1zM815 356h1v5h-1zM816 361h1v4h-1zM817 365h1v5h-1zM818 370h1v4h-1zM819 374h1v5h-1zM820 379h1v4h-1zM821 383h1v4h-1zM822 387h1v4h-1zM823 391h1v4h-1zM824 395h1v3h-1zM825 398h1v4h-1zM826 402h1v3h-1zM827 405h1v3h-1zM828 408h1v2h-1zM829 410h1v2h-1zM830 412h1v2h-1zM831 414h3v1h-3zM834 415h6v1h-6zM839 414h1v1h-1zM840 412h1v2h-1zM841 410h1v2h-1zM842 408h1v2h-1zM843 407h1v1h-1zM844 405h1v2h-1zM845 403h1v2h-1zM846 401h1v2h-1zM847 400h1v1h-1zM848 399h2v1h-2zM850 398h1v1h-1zM851 397h7v1h-7zM858 398h2v1h-2zM859 399h1v1h-1zM860 400h1v4h-1zM861 404h1v3h-1zM862 407h1v4h-1zM863 411h1v4h-1zM864 415h1v6h-1zM865 421h1v6h-1zM866 427h1v6h-1zM867 433h1v5h-1zM868 438h1v5h-1zM869 443h1v6h-1zM870 449h1v5h-1zM871 454h1v5h-1zM872 459h1v5h-1zM873 464h1v4h-1zM874 468h1v5h-1zM875 473h1v5h-1zM876 478h1v4h-1zM877 482h1v4h-1zM878 486h1v4h-1zM879 490h1v3h-1zM880 493h1v1h-1zM881 494h1v2h-1zM882 496h1v1h-1zM883 497h1v1h-1zM884 495h1v2h-1zM885 493h1v2h-1zM886 491h1v2h-1zM887 489h1v2h-1zM888 487h1v2h-1zM889 484h1v3h-1zM890 482h1v2h-1zM891 479h1v3h-1zM892 477h1v2h-1zM893 474h1v3h-1zM894 472h1v2h-1zM895 469h1v3h-1zM896 466h1v3h-1zM897 462h1v4h-1zM898 459h1v3h-1zM899 457h2v1h-2zM899 458h1v1h-1zM901 456h2v1h-2zM903 455h1v1h-1zM904 456h1v1h-1zM905 457h1v2h-1zM906 459h1v1h-1zM907 460h1v1h-1zM908 459h1v1h-1zM909 457h1v2h-1zM910 456h1v1h-1zM911 455h1v1h-1zM912 453h1v2h-1zM913 451h1v2h-1zM914 449h1v2h-1zM915 448h3v1h-3zM918 447h2v1h-2zM920 448h1v1h-1zM921 449h1v2h-1zM922 451h2v1h-2zM923 452h1v1h-1zM924 449h1v2h-1zM925 447h1v2h-1zM926 445h1v2h-1zM927 443h2v1h-2zM927 444h1v1h-1zM929 444h2v1h-2zM931 445h1v1h-1zM932 446h1v1h-1zM933 447h1v1h-1zM934 448h1v1h-1zM935 449h1v2h-1zM936 451h1v2h-1zM937 453h1v3h-1zM938 456h1v2h-1zM939 458h1v1h-1zM939 459h2v1h-2zM941 458h3v1h-3zM943 457h1v1h-1zM944 459h1v3h-1zM945 462h1v2h-1zM946 464h1v3h-1zM947 467h1v3h-1zM948 470h1v2h-1zM949 472h1v2h-1zM950 474h1v2h-1zM951 476h1v3h-1zM952 479h1v4h-1zM953 483h1v4h-1zM954 487h1v4h-1zM955 491h1v3h-1zM956 494h1v2h-1zM957 496h1v3h-1zM958 499h1v2h-1zM959 501h1v3h-1zM960 504h1v3h-1zM961 507h1v2h-1zM962 509h1v3h-1zM963 512h1v3h-1zM964 515h1v2h-1zM965 517h1v2h-1zM966 519h1v2h-1zM967 521h1v3h-1zM968 524h1v4h-1zM969 528h1v4h-1zM970 532h1v4h-1zM971 536h1v1h-1zM971 537h2v1h-2zM973 538h2v1h-2zM975 539h2v1h-2zM977 538h2v1h-2zM979 536h1v2h-1zM980 534h1v2h-1zM981 532h1v2h-1zM982 530h1v2h-1zM983 529h1v1h-1zM984 528h1v1h-1zM985 526h1v2h-1zM986 525h1v1h-1zM987 523h1v2h-1zM988 520h1v3h-1zM989 517h1v3h-1zM990 514h1v3h-1zM991 511h1v3h-1zM992 509h1v2h-1zM993 507h1v2h-1zM994 505h1v2h-1zM995 504h6v1h-6zM1001 505h2v1h-2zM1003 506h1v1h-1zM1004 504h1v2h-1zM1005 503h1v1h-1zM1006 501h1v2h-1zM1007 499h1v2h-1zM1008 497h1v2h-1zM1009 495h1v2h-1zM1010 493h1v2h-1zM1011 490h1v3h-1zM1012 488h1v2h-1zM1013 486h1v2h-1zM1014 484h1v2h-1zM1015 481h1v3h-1zM1016 478h1v3h-1zM1017 475h1v3h-1zM1018 472h1v3h-1zM1019 469h1v3h-1zM1020 467h1v2h-1zM1021 465h1v2h-1zM1022 463h1v2h-1zM1023 461h1v2h-1zM1024 459h1v2h-1zM1025 456h1v3h-1zM1026 454h1v2h-1zM1027 451h1v3h-1zM1028 448h1v3h-1zM1029 444h1v4h-1zM1030 441h1v3h-1zM1031 437h1v4h-1zM1032 433h1v4h-1zM1033 429h1v4h-1zM1034 425h1v4h-1zM1035 420h1v5h-1zM1036 415h1v5h-1zM1037 409h1v6h-1zM1038 404h1v5h-1zM1039 399h1v5h-1zM1040 395h1v4h-1zM1041 391h1v4h-1zM1042 387h1v4h-1zM1043 384h1v3h-1zM1044 382h1v2h-1zM1045 380h1v2h-1zM1046 378h1v2h-1zM1047 376h3v1h-3zM1047 377h1v1h-1zM1050 377h2v1h-2zM1051 378h1v1h-1zM1052 379h1v2h-1zM1053 381h1v2h-1zM1054 383h1v2h-1zM1055 385h1v3h-1zM1056 388h1v3h-1zM1057 391h1v4h-1zM1058 395h1v3h-1zM1059 398h1v3h-1zM1060 401h1v2h-1zM1061 403h1v3h-1zM1062 406h1v2h-1zM1063 408h1v2h-1zM1064 410h1v2h-1zM1065 412h1v1h-1zM1066 413h1v2h-1zM1067 415h5v1h-5zM1072 414h1v1h-1zM1073 413h1v1h-1zM1074 412h1v1h-1zM1075 410h1v2h-1zM1076 407h1v3h-1zM1077 405h1v2h-1zM1078 402h1v3h-1zM1079 399h1v3h-1zM1080 395h1v4h-1zM1081 392h1v3h-1zM1082 388h1v4h-1zM1083 385h1v3h-1zM1084 382h1v3h-1zM1085 380h1v2h-1zM1086 377h1v3h-1zM1087 375h1v2h-1zM1088 374h1v1h-1zM1089 372h1v2h-1zM1090 371h1v1h-1zM1091 370h1v1h-1zM1092 371h1v2h-1zM1093 373h1v2h-1zM1094 375h1v2h-1zM1095 377h1v2h-1zM1096 379h1v3h-1zM1097 382h1v4h-1zM1098 386h1v3h-1zM1099 389h1v4h-1zM1100 393h1v4h-1zM1101 397h1v5h-1zM1102 402h1v4h-1zM1103 406h1v5h-1zM1104 411h1v6h-1zM1105 417h1v5h-1zM1106 422h1v6h-1zM1107 428h1v5h-1zM1108 433h1v5h-1zM1109 438h1v5h-1zM1110 443h1v5h-1zM1111 448h1v3h-1zM1112 451h1v2h-1zM1113 453h1v1h-1zM1114 454h1v2h-1zM1115 456h1v2h-1zM1116 458h1v2h-1zM1117 460h1v3h-1zM1118 463h1v2h-1zM1119 465h1v2h-1zM1120 467h1v1h-1zM1121 468h1v2h-1zM1122 470h1v1h-1zM1123 471h1v1h-1zM1124 472h2v1h-2zM1126 473h1v1h-1zM1127 474h1v1h-1zM1128 473h1v1h-1zM1129 471h1v2h-1zM1130 470h1v1h-1zM1131 469h1v1h-1zM1132 468h2v1h-2zM1134 467h1v1h-1zM1135 465h1v2h-1zM1136 463h1v2h-1zM1137 460h1v3h-1zM1138 458h1v2h-1zM1139 455h1v3h-1zM1140 452h1v3h-1zM1141 450h1v2h-1zM1142 447h1v3h-1zM1143 444h1v3h-1zM1144 442h1v2h-1zM1145 440h1v2h-1zM1146 438h1v2h-1zM1147 436h1v2h-1zM1148 435h1v1h-1zM1149 434h1v1h-1zM1150 433h1v1h-1zM1151 432h1v1h-1zM1152 433h2v1h-2zM1154 434h1v1h-1zM1155 435h1v2h-1zM1156 437h1v2h-1zM1157 439h1v2h-1zM1158 441h1v2h-1zM1159 443h1v3h-1zM1160 446h1v2h-1zM1161 448h1v3h-1zM1162 451h1v2h-1zM1163 453h1v3h-1zM1164 456h1v2h-1zM1165 458h1v2h-1zM1166 460h1v2h-1zM1167 462h1v2h-1zM1168 464h1v3h-1zM1169 467h1v3h-1zM1170 470h1v3h-1zM1171 473h1v2h-1zM1172 475h1v1h-1zM1173 476h1v1h-1zM1174 477h1v1h-1zM1175 478h7v1h-7zM1182 477h2v1h-2zM1183 476h1v1h-1zM1184 474h1v2h-1zM1185 472h1v2h-1zM1186 470h1v2h-1zM1187 467h1v3h-1zM1188 464h1v3h-1zM1189 460h1v4h-1zM1190 457h1v3h-1zM1191 454h1v3h-1zM1192 451h1v3h-1zM1193 448h1v3h-1zM1194 445h1v3h-1zM1195 442h1v3h-1zM1196 440h1v2h-1zM1197 437h1v3h-1zM1198 435h1v2h-1zM1199 433h1v2h-1zM1200 431h1v2h-1zM1201 430h1v1h-1zM1202 428h1v2h-1zM1203 427h1v1h-1zM1204 428h2v1h-2zM1206 429h1v1h-1zM1207 430h2v1h-2zM1209 431h2v1h-2zM1211 432h7v1h-7zM1218 433h2v1h-2zM1219 432h1v1h-1zM1220 430h1v2h-1zM1221 427h1v3h-1zM1222 425h1v2h-1zM1223 422h1v3h-1zM1224 419h1v3h-1zM1225 416h1v3h-1zM1226 413h1v3h-1zM1227 410h1v3h-1zM1228 408h1v2h-1zM1229 406h1v2h-1zM1230 404h1v2h-1zM1231 403h1v1h-1zM1232 401h1v2h-1zM1233 399h1v2h-1zM1234 397h1v2h-1zM1235 395h1v2h-1zM1236 392h1v3h-1zM1237 390h1v2h-1zM1238 387h1v3h-1zM1239 385h3v1h-3zM1239 386h1v1h-1zM1242 384h2v1h-2zM1244 385h2v1h-2zM1246 386h1v1h-1zM1247 387h1v1h-1zM1248 388h1v1h-1zM1249 389h1v2h-1zM1250 391h1v1h-1zM1251 392h1v2h-1zM1252 394h1v3h-1zM1253 397h1v2h-1zM1254 399h1v3h-1zM1255 402h1v3h-1zM1256 405h1v2h-1zM1257 407h1v3h-1zM1258 410h1v2h-1zM1259 412h1v2h-1zM1260 414h1v2h-1zM1261 416h1v1h-1zM1262 417h1v2h-1zM1263 419h1v1h-1zM1264 420h1v1h-1zM1265 421h1v1h-1zM1266 422h1v1h-1zM1267 423h2v1h-2zM1269 422h2v1h-2zM1271 420h1v2h-1zM1272 416h1v4h-1zM1273 413h1v3h-1zM1274 409h1v4h-1zM1275 406h1v3h-1zM1276 402h1v4h-1zM1277 398h1v4h-1zM1278 394h1v4h-1zM1279 390h1v4h-1zM1280 386h1v4h-1zM1281 382h1v4h-1zM1282 378h1v4h-1zM1283 373h1v5h-1zM1284 368h1v5h-1zM1285 362h1v6h-1zM1286 357h1v5h-1zM1287 352h1v5h-1zM1288 348h1v4h-1zM1289 343h1v5h-1zM1290 339h1v4h-1zM1291 336h1v3h-1zM1292 334h1v2h-1zM1293 333h1v1h-1zM1294 331h1v2h-1zM1295 330h1v1h-1zM1296 331h1v1h-1zM1297 332h1v1h-1zM1298 333h1v1h-1zM1299 334h1v1h-1zM1300 335h1v1h-1zM1301 336h1v2h-1zM1302 338h1v1h-1zM1303 339h1v2h-1zM1304 341h1v2h-1zM1305 343h1v2h-1zM1306 345h1v2h-1zM1307 347h1v1h-1z"/>
<rect x="7" y="267" width="1636" height="2" fill="#ff0000"/>
<rect x="7" y="340" width="1638" height="2" fill="#ff0000"/>
<rect x="7" y="408" width="1636" height="2" fill="#00ff00"/>
<rect x="7" y="484" width="1636" height="2" fill="#0000cd"/>
<rect x="7" y="575" width="1638" height="2" fill="#0000cd"/>
</g>
<rect x="6" y="265" width="6" height="6" fill="#ff0000"/>
<rect x="8" y="267" width="2" height="2" fill="#fff"/>
<rect x="1637" y="265" width="6" height="6" fill="#ff0000"/>
<rect x="1639" y="267" width="2" height="2" fill="#fff"/>
<rect x="6" y="406" width="6" height="6" fill="#00ff00"/>
<rect x="8" y="408" width="2" height="2" fill="#fff"/>
<rect x="1637" y="406" width="6" height="6" fill="#00ff00"/>
<rect x="1639" y="408" width="2" height="2" fill="#fff"/>
<rect x="6" y="482" width="6" height="6" fill="#0000cd"/>
<rect x="8" y="484" width="2" height="2" fill="#fff"/>
<rect x="1637" y="482" width="6" height="6" fill="#0000cd"/>
<rect x="1639" y="484" width="2" height="2" fill="#fff"/>
<rect x="1643" y="340" width="2" height="2" fill="#ff0000"/>
<rect x="1643" y="575" width="2" height="2" fill="#0000cd"/>
<rect x="1645" y="262" width="41" height="11" fill="#ff0000"/>
<g shape-rendering="auto">
<text x="1649.5" y="271.2" fill="#fff" textLength="32.5" lengthAdjust="spacingAndGlyphs" stroke="#fff" stroke-width="0.16">1.12859</text>
</g>
<rect x="1645" y="335" width="41" height="11" fill="#ff0000"/>
<g shape-rendering="auto">
<text x="1649.5" y="344.2" fill="#fff" textLength="32.5" lengthAdjust="spacingAndGlyphs" stroke="#fff" stroke-width="0.16">1.11903</text>
</g>
<rect x="1645" y="355" width="41" height="11" fill="#000000"/>
<g shape-rendering="auto">
<text x="1649.5" y="364.2" fill="#fff" textLength="32.5" lengthAdjust="spacingAndGlyphs" stroke="#fff" stroke-width="0.16">1.11646</text>
</g>
<rect x="1645" y="403" width="41" height="11" fill="#00ff00"/>
<g shape-rendering="auto">
<text x="1649.5" y="412.2" fill="#fff" textLength="32.5" lengthAdjust="spacingAndGlyphs" stroke="#fff" stroke-width="0.16">1.11009</text>
</g>
<rect x="1645" y="479" width="41" height="11" fill="#0000cd"/>
<g shape-rendering="auto">
<text x="1649.5" y="488.2" fill="#fff" textLength="32.5" lengthAdjust="spacingAndGlyphs" stroke="#fff" stroke-width="0.16">1.10008</text>
</g>
<rect x="1645" y="570" width="41" height="11" fill="#0000cd"/>
<g shape-rendering="auto">
<text x="1649.5" y="579.2" fill="#fff" textLength="32.5" lengthAdjust="spacingAndGlyphs" stroke="#fff" stroke-width="0.16">1.08800</text>
</g>
<path d="M1310 26 L1319 26 L1314.5 30.5 Z" fill="#c0c0c0" shape-rendering="auto"/>
<path fill="#c0c0c0" d="M8 626h3v1h-3zM14 626h3v1h-3zM20 626h3v1h-3zM26 626h3v1h-3zM32 626h3v1h-3zM38 626h3v1h-3zM44 626h3v1h-3zM50 626h3v1h-3zM56 626h3v1h-3zM62 626h3v1h-3zM68 626h3v1h-3zM74 626h3v1h-3zM80 626h3v1h-3zM86 626h3v1h-3zM92 626h3v1h-3zM98 626h3v1h-3zM104 626h3v1h-3zM110 626h3v1h-3zM116 626h3v1h-3zM122 626h3v1h-3zM128 626h3v1h-3zM134 626h3v1h-3zM140 626h3v1h-3zM146 626h3v1h-3zM152 626h3v1h-3zM158 626h3v1h-3zM164 626h3v1h-3zM170 626h3v1h-3zM176 626h3v1h-3zM182 626h3v1h-3zM188 626h3v1h-3zM194 626h3v1h-3zM200 626h3v1h-3zM206 626h3v1h-3zM212 626h3v1h-3zM218 626h3v1h-3zM224 626h3v1h-3zM230 626h3v1h-3zM236 626h3v1h-3zM242 626h3v1h-3zM248 626h3v1h-3zM254 626h3v1h-3zM260 626h3v1h-3zM266 626h3v1h-3zM272 626h3v1h-3zM278 626h3v1h-3zM284 626h3v1h-3zM290 626h3v1h-3zM296 626h3v1h-3zM302 626h3v1h-3zM308 626h3v1h-3zM314 626h3v1h-3zM320 626h3v1h-3zM326 626h3v1h-3zM332 626h3v1h-3zM338 626h3v1h-3zM344 626h3v1h-3zM350 626h3v1h-3zM356 626h3v1h-3zM362 626h3v1h-3zM368 626h3v1h-3zM374 626h3v1h-3zM380 626h3v1h-3zM386 626h3v1h-3zM392 626h3v1h-3zM398 626h3v1h-3zM404 626h3v1h-3zM410 626h3v1h-3zM416 626h3v1h-3zM422 626h3v1h-3zM428 626h3v1h-3zM434 626h3v1h-3zM440 626h3v1h-3zM446 626h3v1h-3zM452 626h3v1h-3zM458 626h3v1h-3zM464 626h3v1h-3zM470 626h3v1h-3zM476 626h3v1h-3zM482 626h3v1h-3zM488 626h3v1h-3zM494 626h3v1h-3zM500 626h3v1h-3zM506 626h3v1h-3zM512 626h3v1h-3zM518 626h3v1h-3zM524 626h3v1h-3zM530 626h3v1h-3zM536 626h3v1h-3zM542 626h3v1h-3zM548 626h3v1h-3zM554 626h3v1h-3zM560 626h3v1h-3zM566 626h3v1h-3zM572 626h3v1h-3zM578 626h3v1h-3zM584 626h3v1h-3zM590 626h3v1h-3zM596 626h3v1h-3zM602 626h3v1h-3zM608 626h3v1h-3zM614 626h3v1h-3zM620 626h3v1h-3zM626 626h3v1h-3zM632 626h3v1h-3zM638 626h3v1h-3zM644 626h3v1h-3zM650 626h3v1h-3zM656 626h3v1h-3zM662 626h3v1h-3zM668 626h3v1h-3zM674 626h3v1h-3zM680 626h3v1h-3zM686 626h3v1h-3zM692 626h3v1h-3zM698 626h3v1h-3zM704 626h3v1h-3zM710 626h3v1h-3zM716 626h3v1h-3zM722 626h3v1h-3zM728 626h3v1h-3zM734 626h3v1h-3zM740 626h3v1h-3zM746 626h3v1h-3zM752 626h3v1h-3zM758 626h3v1h-3zM764 626h3v1h-3zM770 626h3v1h-3zM776 626h3v1h-3zM782 626h3v1h-3zM788 626h3v1h-3zM794 626h3v1h-3zM800 626h3v1h-3zM806 626h3v1h-3zM812 626h3v1h-3zM818 626h3v1h-3zM824 626h3v1h-3zM830 626h3v1h-3zM836 626h3v1h-3zM842 626h3v1h-3zM848 626h3v1h-3zM854 626h3v1h-3zM860 626h3v1h-3zM866 626h3v1h-3zM872 626h3v1h-3zM878 626h3v1h-3zM884 626h3v1h-3zM890 626h3v1h-3zM896 626h3v1h-3zM902 626h3v1h-3zM908 626h3v1h-3zM914 626h3v1h-3zM920 626h3v1h-3zM926 626h3v1h-3zM932 626h3v1h-3zM938 626h3v1h-3zM944 626h3v1h-3zM950 626h3v1h-3zM956 626h3v1h-3zM962 626h3v1h-3zM968 626h3v1h-3zM974 626h3v1h-3zM980 626h3v1h-3zM986 626h3v1h-3zM992 626h3v1h-3zM998 626h3v1h-3zM1004 626h3v1h-3zM1010 626h3v1h-3zM1016 626h3v1h-3zM1022 626h3v1h-3zM1028 626h3v1h-3zM1034 626h3v1h-3zM1040 626h3v1h-3zM1046 626h3v1h-3zM1052 626h3v1h-3zM1058 626h3v1h-3zM1064 626h3v1h-3zM1070 626h3v1h-3zM1076 626h3v1h-3zM1082 626h3v1h-3zM1088 626h3v1h-3zM1094 626h3v1h-3zM1100 626h3v1h-3zM1106 626h3v1h-3zM1112 626h3v1h-3zM1118 626h3v1h-3zM1124 626h3v1h-3zM1130 626h3v1h-3zM1136 626h3v1h-3zM1142 626h3v1h-3zM1148 626h3v1h-3zM1154 626h3v1h-3zM1160 626h3v1h-3zM1166 626h3v1h-3zM1172 626h3v1h-3zM1178 626h3v1h-3zM1184 626h3v1h-3zM1190 626h3v1h-3zM1196 626h3v1h-3zM1202 626h3v1h-3zM1208 626h3v1h-3zM1214 626h3v1h-3zM1220 626h3v1h-3zM1226 626h3v1h-3zM1232 626h3v1h-3zM1238 626h3v1h-3zM1244 626h3v1h-3zM1250 626h3v1h-3zM1256 626h3v1h-3zM1262 626h3v1h-3zM1268 626h3v1h-3zM1274 626h3v1h-3zM1280 626h3v1h-3zM1286 626h3v1h-3zM1292 626h3v1h-3zM1298 626h3v1h-3zM1304 626h3v1h-3zM1310 626h3v1h-3zM1316 626h3v1h-3zM1322 626h3v1h-3zM1328 626h3v1h-3zM1334 626h3v1h-3zM1340 626h3v1h-3zM1346 626h3v1h-3zM1352 626h3v1h-3zM1358 626h3v1h-3zM1364 626h3v1h-3zM1370 626h3v1h-3zM1376 626h3v1h-3zM1382 626h3v1h-3zM1388 626h3v1h-3zM1394 626h3v1h-3zM1400 626h3v1h-3zM1406 626h3v1h-3zM1412 626h3v1h-3zM1418 626h3v1h-3zM1424 626h3v1h-3zM1430 626h3v1h-3zM1436 626h3v1h-3zM1442 626h3v1h-3zM1448 626h3v1h-3zM1454 626h3v1h-3zM1460 626h3v1h-3zM1466 626h3v1h-3zM1472 626h3v1h-3zM1478 626h3v1h-3zM1484 626h3v1h-3zM1490 626h3v1h-3zM1496 626h3v1h-3zM1502 626h3v1h-3zM1508 626h3v1h-3zM1514 626h3v1h-3zM1520 626h3v1h-3zM1526 626h3v1h-3zM1532 626h3v1h-3zM1538 626h3v1h-3zM1544 626h3v1h-3zM1550 626h3v1h-3zM1556 626h3v1h-3zM1562 626h3v1h-3zM1568 626h3v1h-3zM1574 626h3v1h-3zM1580 626h3v1h-3zM1586 626h3v1h-3zM1592 626h3v1h-3zM1598 626h3v1h-3zM1604 626h3v1h-3zM1610 626h3v1h-3zM1616 626h3v1h-3zM1622 626h3v1h-3zM1628 626h3v1h-3zM1634 626h3v1h-3zM1640 626h3v1h-3z"/>
<path fill="#c0c0c0" d="M8 667h3v1h-3zM14 667h3v1h-3zM20 667h3v1h-3zM26 667h3v1h-3zM32 667h3v1h-3zM38 667h3v1h-3zM44 667h3v1h-3zM50 667h3v1h-3zM56 667h3v1h-3zM62 667h3v1h-3zM68 667h3v1h-3zM74 667h3v1h-3zM80 667h3v1h-3zM86 667h3v1h-3zM92 667h3v1h-3zM98 667h3v1h-3zM104 667h3v1h-3zM110 667h3v1h-3zM116 667h3v1h-3zM122 667h3v1h-3zM128 667h3v1h-3zM134 667h3v1h-3zM140 667h3v1h-3zM146 667h3v1h-3zM152 667h3v1h-3zM158 667h3v1h-3zM164 667h3v1h-3zM170 667h3v1h-3zM176 667h3v1h-3zM182 667h3v1h-3zM188 667h3v1h-3zM194 667h3v1h-3zM200 667h3v1h-3zM206 667h3v1h-3zM212 667h3v1h-3zM218 667h3v1h-3zM224 667h3v1h-3zM230 667h3v1h-3zM236 667h3v1h-3zM242 667h3v1h-3zM248 667h3v1h-3zM254 667h3v1h-3zM260 667h3v1h-3zM266 667h3v1h-3zM272 667h3v1h-3zM278 667h3v1h-3zM284 667h3v1h-3zM290 667h3v1h-3zM296 667h3v1h-3zM302 667h3v1h-3zM308 667h3v1h-3zM314 667h3v1h-3zM320 667h3v1h-3zM326 667h3v1h-3zM332 667h3v1h-3zM338 667h3v1h-3zM344 667h3v1h-3zM350 667h3v1h-3zM356 667h3v1h-3zM362 667h3v1h-3zM368 667h3v1h-3zM374 667h3v1h-3zM380 667h3v1h-3zM386 667h3v1h-3zM392 667h3v1h-3zM398 667h3v1h-3zM404 667h3v1h-3zM410 667h3v1h-3zM416 667h3v1h-3zM422 667h3v1h-3zM428 667h3v1h-3zM434 667h3v1h-3zM440 667h3v1h-3zM446 667h3v1h-3zM452 667h3v1h-3zM458 667h3v1h-3zM464 667h3v1h-3zM470 667h3v1h-3zM476 667h3v1h-3zM482 667h3v1h-3zM488 667h3v1h-3zM494 667h3v1h-3zM500 667h3v1h-3zM506 667h3v1h-3zM512 667h3v1h-3zM518 667h3v1h-3zM524 667h3v1h-3zM530 667h3v1h-3zM536 667h3v1h-3zM542 667h3v1h-3zM548 667h3v1h-3zM554 667h3v1h-3zM560 667h3v1h-3zM566 667h3v1h-3zM572 667h3v1h-3zM578 667h3v1h-3zM584 667h3v1h-3zM590 667h3v1h-3zM596 667h3v1h-3zM602 667h3v1h-3zM608 667h3v1h-3zM614 667h3v1h-3zM620 667h3v1h-3zM626 667h3v1h-3zM632 667h3v1h-3zM638 667h3v1h-3zM644 667h3v1h-3zM650 667h3v1h-3zM656 667h3v1h-3zM662 667h3v1h-3zM668 667h3v1h-3zM674 667h3v1h-3zM680 667h3v1h-3zM686 667h3v1h-3zM692 667h3v1h-3zM698 667h3v1h-3zM704 667h3v1h-3zM710 667h3v1h-3zM716 667h3v1h-3zM722 667h3v1h-3zM728 667h3v1h-3zM734 667h3v1h-3zM740 667h3v1h-3zM746 667h3v1h-3zM752 667h3v1h-3zM758 667h3v1h-3zM764 667h3v1h-3zM770 667h3v1h-3zM776 667h3v1h-3zM782 667h3v1h-3zM788 667h3v1h-3zM794 667h3v1h-3zM800 667h3v1h-3zM806 667h3v1h-3zM812 667h3v1h-3zM818 667h3v1h-3zM824 667h3v1h-3zM830 667h3v1h-3zM836 667h3v1h-3zM842 667h3v1h-3zM848 667h3v1h-3zM854 667h3v1h-3zM860 667h3v1h-3zM866 667h3v1h-3zM872 667h3v1h-3zM878 667h3v1h-3zM884 667h3v1h-3zM890 667h3v1h-3zM896 667h3v1h-3zM902 667h3v1h-3zM908 667h3v1h-3zM914 667h3v1h-3zM920 667h3v1h-3zM926 667h3v1h-3zM932 667h3v1h-3zM938 667h3v1h-3zM944 667h3v1h-3zM950 667h3v1h-3zM956 667h3v1h-3zM962 667h3v1h-3zM968 667h3v1h-3zM974 667h3v1h-3zM980 667h3v1h-3zM986 667h3v1h-3zM992 667h3v1h-3zM998 667h3v1h-3zM1004 667h3v1h-3zM1010 667h3v1h-3zM1016 667h3v1h-3zM1022 667h3v1h-3zM1028 667h3v1h-3zM1034 667h3v1h-3zM1040 667h3v1h-3zM1046 667h3v1h-3zM1052 667h3v1h-3zM1058 667h3v1h-3zM1064 667h3v1h-3zM1070 667h3v1h-3zM1076 667h3v1h-3zM1082 667h3v1h-3zM1088 667h3v1h-3zM1094 667h3v1h-3zM1100 667h3v1h-3zM1106 667h3v1h-3zM1112 667h3v1h-3zM1118 667h3v1h-3zM1124 667h3v1h-3zM1130 667h3v1h-3zM1136 667h3v1h-3zM1142 667h3v1h-3zM1148 667h3v1h-3zM1154 667h3v1h-3zM1160 667h3v1h-3zM1166 667h3v1h-3zM1172 667h3v1h-3zM1178 667h3v1h-3zM1184 667h3v1h-3zM1190 667h3v1h-3zM1196 667h3v1h-3zM1202 667h3v1h-3zM1208 667h3v1h-3zM1214 667h3v1h-3zM1220 667h3v1h-3zM1226 667h3v1h-3zM1232 667h3v1h-3zM1238 667h3v1h-3zM1244 667h3v1h-3zM1250 667h3v1h-3zM1256 667h3v1h-3zM1262 667h3v1h-3zM1268 667h3v1h-3zM1274 667h3v1h-3zM1280 667h3v1h-3zM1286 667h3v1h-3zM1292 667h3v1h-3zM1298 667h3v1h-3zM1304 667h3v1h-3zM1310 667h3v1h-3zM1316 667h3v1h-3zM1322 667h3v1h-3zM1328 667h3v1h-3zM1334 667h3v1h-3zM1340 667h3v1h-3zM1346 667h3v1h-3zM1352 667h3v1h-3zM1358 667h3v1h-3zM1364 667h3v1h-3zM1370 667h3v1h-3zM1376 667h3v1h-3zM1382 667h3v1h-3zM1388 667h3v1h-3zM1394 667h3v1h-3zM1400 667h3v1h-3zM1406 667h3v1h-3zM1412 667h3v1h-3zM1418 667h3v1h-3zM1424 667h3v1h-3zM1430 667h3v1h-3zM1436 667h3v1h-3zM1442 667h3v1h-3zM1448 667h3v1h-3zM1454 667h3v1h-3zM1460 667h3v1h-3zM1466 667h3v1h-3zM1472 667h3v1h-3zM1478 667h3v1h-3zM1484 667h3v1h-3zM1490 667h3v1h-3zM1496 667h3v1h-3zM1502 667h3v1h-3zM1508 667h3v1h-3zM1514 667h3v1h-3zM1520 667h3v1h-3zM1526 667h3v1h-3zM1532 667h3v1h-3zM1538 667h3v1h-3zM1544 667h3v1h-3zM1550 667h3v1h-3zM1556 667h3v1h-3zM1562 667h3v1h-3zM1568 667h3v1h-3zM1574 667h3v1h-3zM1580 667h3v1h-3zM1586 667h3v1h-3zM1592 667h3v1h-3zM1598 667h3v1h-3zM1604 667h3v1h-3zM1610 667h3v1h-3zM1616 667h3v1h-3zM1622 667h3v1h-3zM1628 667h3v1h-3zM1634 667h3v1h-3zM1640 667h3v1h-3z"/>
<clipPath id="cr"><rect x="7" y="595" width="1636" height="103"/></clipPath>
<path clip-path="url(#cr)" fill="#1e90ff" d="M7 646h1v1h-1zM8 645h1v1h-1zM9 643h1v2h-1zM10 642h1v1h-1zM11 641h2v1h-2zM13 642h2v1h-2zM15 643h3v1h-3zM18 642h4v1h-4zM22 643h2v1h-2zM24 642h1v1h-1zM25 641h1v1h-1zM26 640h1v1h-1zM27 639h3v1h-3zM30 638h3v1h-3zM33 639h2v1h-2zM35 640h1v1h-1zM36 639h1v1h-1zM37 638h1v1h-1zM38 637h2v1h-2zM39 636h1v1h-1zM40 638h1v4h-1zM41 642h1v4h-1zM42 646h1v4h-1zM43 650h2v1h-2zM43 651h1v1h-1zM45 648h1v2h-1zM46 647h1v1h-1zM47 646h2v1h-2zM49 645h2v1h-2zM51 644h2v1h-2zM53 645h2v1h-2zM55 646h1v1h-1zM56 644h1v2h-1zM57 642h1v2h-1zM58 640h1v2h-1zM59 639h1v1h-1zM60 640h2v1h-2zM62 641h1v1h-1zM63 642h1v1h-1zM64 640h1v2h-1zM65 638h1v2h-1zM66 636h1v2h-1zM67 635h3v1h-3zM70 634h2v1h-2zM72 635h1v2h-1zM73 637h1v1h-1zM74 638h1v2h-1zM75 640h2v1h-2zM77 641h2v1h-2zM79 642h5v1h-5zM84 643h2v1h-2zM86 644h1v1h-1zM87 645h1v1h-1zM88 646h1v2h-1zM89 648h1v1h-1zM90 649h1v2h-1zM91 651h3v1h-3zM94 652h3v1h-3zM97 653h2v1h-2zM99 654h3v1h-3zM102 653h4v1h-4zM106 654h4v1h-4zM110 655h2v1h-2zM112 654h1v1h-1zM113 653h1v1h-1zM114 652h1v1h-1zM115 651h1v1h-1zM116 652h2v1h-2zM118 653h1v1h-1zM119 654h1v1h-1zM120 652h1v2h-1zM121 650h1v2h-1zM122 648h1v2h-1zM123 647h2v1h-2zM125 646h2v1h-2zM127 645h1v1h-1zM128 644h2v1h-2zM130 643h1v1h-1zM131 642h1v1h-1zM132 643h2v1h-2zM134 644h1v1h-1zM135 645h3v1h-3zM138 644h2v1h-2zM140 642h1v2h-1zM141 640h1v2h-1zM142 638h1v2h-1zM143 637h2v1h-2zM145 638h2v1h-2zM147 639h3v1h-3zM150 640h2v1h-2zM152 641h1v1h-1zM153 642h1v2h-1zM154 644h1v1h-1zM155 645h1v1h-1zM156 646h1v1h-1zM157 647h1v1h-1zM158 648h1v1h-1zM159 649h1v1h-1zM160 650h1v1h-1zM161 651h1v1h-1zM162 652h1v1h-1zM163 653h1v1h-1zM164 654h2v1h-2zM166 655h1v1h-1zM167 656h1v1h-1zM168 657h2v1h-2zM170 658h1v1h-1zM171 659h3v1h-3zM174 660h2v1h-2zM176 661h1v1h-1zM177 662h1v2h-1zM178 664h1v1h-1zM179 665h1v1h-1zM180 664h1v1h-1zM181 663h1v1h-1zM182 662h1v1h-1zM183 661h3v1h-3zM186 662h4v1h-4zM190 663h3v1h-3zM193 664h2v1h-2zM195 665h1v1h-1zM196 663h1v2h-1zM197 661h1v2h-1zM198 659h1v2h-1zM199 658h1v1h-1zM200 657h2v1h-2zM202 656h1v1h-1zM203 655h1v1h-1zM204 654h1v1h-1zM205 652h1v2h-1zM206 651h1v1h-1zM207 650h2v1h-2zM209 649h2v1h-2zM211 648h7v1h-7zM218 649h4v1h-4zM222 650h3v1h-3zM225 649h2v1h-2zM227 648h1v1h-1zM228 647h2v1h-2zM230 646h1v1h-1zM231 645h1v1h-1zM232 644h1v1h-1zM233 643h1v1h-1zM234 642h1v1h-1zM235 641h3v1h-3zM238 640h6v1h-6zM244 641h1v2h-1zM245 643h1v2h-1zM246 645h1v2h-1zM247 647h1v1h-1zM248 648h1v2h-1zM249 650h1v2h-1zM250 652h1v2h-1zM251 654h1v1h-1zM252 655h2v1h-2zM254 656h1v1h-1zM255 657h1v1h-1zM256 656h2v1h-2zM258 655h2v1h-2zM259 654h1v1h-1zM260 656h1v3h-1zM261 659h1v3h-1zM262 662h1v3h-1zM263 665h1v1h-1zM263 666h3v1h-3zM266 665h4v1h-4zM270 664h3v1h-3zM273 665h3v1h-3zM275 666h1v1h-1zM276 662h1v3h-1zM277 659h1v3h-1zM278 656h1v3h-1zM279 654h1v2h-1zM280 652h1v2h-1zM281 651h1v1h-1zM282 649h1v2h-1zM283 648h3v1h-3zM286 649h2v1h-2zM288 648h1v1h-1zM289 647h1v1h-1zM290 646h1v1h-1zM291 645h3v1h-3zM294 646h2v1h-2zM296 645h2v1h-2zM298 644h1v1h-1zM299 643h3v1h-3zM302 642h3v1h-3zM305 641h2v1h-2zM307 640h3v1h-3zM310 639h2v1h-2zM311 640h1v1h-1zM312 641h1v4h-1zM313 645h1v4h-1zM314 649h1v4h-1zM315 653h1v1h-1zM315 654h2v1h-2zM317 653h2v1h-2zM319 652h1v1h-1zM320 651h1v1h-1zM321 649h1v2h-1zM322 648h1v1h-1zM323 647h1v1h-1zM324 648h1v2h-1zM325 650h1v2h-1zM326 652h1v2h-1zM327 654h1v1h-1zM328 655h2v1h-2zM330 656h1v1h-1zM331 657h2v1h-2zM333 658h2v1h-2zM335 659h3v1h-3zM338 660h3v1h-3zM341 661h2v1h-2zM343 662h3v1h-3zM346 663h2v1h-2zM348 664h2v1h-2zM350 665h2v1h-2zM351 666h1v1h-1zM352 662h1v3h-1zM353 658h1v4h-1zM354 655h1v3h-1zM355 653h1v1h-1zM355 654h2v1h-2zM357 655h1v1h-1zM358 656h1v1h-1zM359 657h9v1h-9zM367 656h1v1h-1zM368 654h1v2h-1zM369 652h1v2h-1zM370 650h1v2h-1zM371 648h1v2h-1zM372 647h2v1h-2zM374 646h1v1h-1zM375 645h2v1h-2zM377 646h2v1h-2zM379 647h3v1h-3zM382 648h2v1h-2zM383 647h1v1h-1zM384 645h1v2h-1zM385 643h1v2h-1zM386 641h1v2h-1zM387 640h2v1h-2zM389 641h2v1h-2zM391 642h3v1h-3zM394 641h3v1h-3zM397 642h2v1h-2zM399 643h3v1h-3zM402 642h2v1h-2zM403 643h1v1h-1zM404 644h1v3h-1zM405 647h1v3h-1zM406 650h1v3h-1zM407 653h1v1h-1zM407 654h3v1h-3zM410 655h2v1h-2zM412 654h2v1h-2zM414 653h1v1h-1zM415 652h1v1h-1zM416 651h2v1h-2zM418 650h2v1h-2zM419 649h1v1h-1zM420 651h1v2h-1zM421 653h1v2h-1zM422 655h1v2h-1zM423 657h2v1h-2zM425 658h2v1h-2zM427 659h1v1h-1zM428 660h1v2h-1zM429 662h1v2h-1zM430 664h1v2h-1zM431 666h1v1h-1zM432 665h1v1h-1zM433 664h1v1h-1zM434 663h1v1h-1zM435 662h7v1h-7zM442 661h2v1h-2zM443 660h1v1h-1zM444 658h1v2h-1zM445 656h1v2h-1zM446 654h1v2h-1zM447 651h1v3h-1zM448 649h1v2h-1zM449 647h1v2h-1zM450 645h2v1h-2zM450 646h1v1h-1zM451 644h1v1h-1zM452 646h1v2h-1zM453 648h1v3h-1zM454 651h1v2h-1zM455 653h1v1h-1zM455 654h3v1h-3zM458 653h4v1h-4zM462 652h4v1h-4zM466 651h2v1h-2zM468 652h2v1h-2zM470 653h1v1h-1zM471 654h1v1h-1zM472 653h1v1h-1zM473 651h1v2h-1zM474 650h1v1h-1zM475 649h1v1h-1zM476 648h1v1h-1zM477 647h1v1h-1zM478 646h1v1h-1zM479 645h2v1h-2zM481 644h2v1h-2zM483 643h2v1h-2zM485 644h2v1h-2zM487 645h5v1h-5zM492 646h1v1h-1zM493 647h1v2h-1zM494 649h1v1h-1zM495 650h5v1h-5zM500 651h1v1h-1zM501 652h1v2h-1zM502 654h1v1h-1zM503 655h2v1h-2zM505 656h2v1h-2zM507 657h3v1h-3zM510 658h2v1h-2zM512 657h2v1h-2zM514 656h1v1h-1zM515 655h2v1h-2zM517 656h2v1h-2zM519 657h3v1h-3zM522 658h2v1h-2zM524 657h1v1h-1zM525 655h1v2h-1zM526 654h1v1h-1zM527 653h1v1h-1zM528 651h1v2h-1zM529 650h1v1h-1zM530 648h1v2h-1zM531 647h1v1h-1zM532 646h2v1h-2zM534 645h1v1h-1zM535 644h1v1h-1zM536 645h1v1h-1zM537 646h1v2h-1zM538 648h1v1h-1zM539 649h1v1h-1zM540 650h2v1h-2zM542 651h1v1h-1zM543 652h1v1h-1zM544 653h1v2h-1zM545 655h1v2h-1zM546 657h1v2h-1zM547 659h3v1h-3zM550 658h2v1h-2zM552 657h2v1h-2zM554 656h1v1h-1zM555 655h1v1h-1zM556 653h1v2h-1zM557 652h1v1h-1zM558 650h1v2h-1zM559 649h1v1h-1zM560 647h1v2h-1zM561 646h1v1h-1zM562 644h1v2h-1zM563 643h1v1h-1zM564 641h1v2h-1zM565 640h1v1h-1zM566 638h1v2h-1zM567 637h3v1h-3zM570 636h2v1h-2zM572 634h1v2h-1zM573 632h1v2h-1zM574 630h1v2h-1zM575 629h1v1h-1zM576 628h2v1h-2zM578 627h1v1h-1zM579 626h2v1h-2zM581 625h2v1h-2zM583 624h1v1h-1zM584 625h1v2h-1zM585 627h1v2h-1zM586 629h1v2h-1zM587 631h7v1h-7zM594 632h2v1h-2zM595 633h1v1h-1zM596 634h1v2h-1zM597 636h1v2h-1zM598 638h1v2h-1zM599 640h1v3h-1zM600 643h1v2h-1zM601 645h1v3h-1zM602 648h1v2h-1zM603 650h1v1h-1zM603 651h3v1h-3zM606 652h2v1h-2zM608 651h1v1h-1zM609 649h1v2h-1zM610 648h1v1h-1zM611 647h1v1h-1zM612 648h1v2h-1zM613 650h1v1h-1zM614 651h1v2h-1zM615 653h1v1h-1zM616 652h2v1h-2zM618 651h1v1h-1zM619 649h1v2h-1zM620 647h1v2h-1zM621 644h1v3h-1zM622 642h1v2h-1zM623 640h1v2h-1zM624 639h1v1h-1zM625 637h1v2h-1zM626 636h1v1h-1zM627 635h1v1h-1zM628 634h1v1h-1zM629 633h1v1h-1zM630 632h1v1h-1zM631 631h2v1h-2zM633 630h2v1h-2zM635 629h3v1h-3zM638 630h6v1h-6zM644 631h2v1h-2zM646 632h1v1h-1zM647 633h9v1h-9zM655 634h1v1h-1zM656 635h1v3h-1zM657 638h1v4h-1zM658 642h1v3h-1zM659 645h1v1h-1zM659 646h3v1h-3zM662 647h2v1h-2zM664 648h1v1h-1zM665 649h1v1h-1zM666 650h1v1h-1zM667 651h2v1h-2zM669 650h3v1h-3zM671 649h1v1h-1zM672 651h1v2h-1zM673 653h1v2h-1zM674 655h1v2h-1zM675 657h1v1h-1zM675 658h3v1h-3zM678 657h3v1h-3zM681 658h2v1h-2zM683 659h3v1h-3zM686 658h2v1h-2zM687 657h1v1h-1zM688 655h1v2h-1zM689 653h1v2h-1zM690 651h1v2h-1zM691 649h7v1h-7zM691 650h1v1h-1zM698 650h2v1h-2zM700 649h2v1h-2zM702 648h1v1h-1zM703 647h2v1h-2zM705 648h2v1h-2zM707 649h1v1h-1zM708 650h1v2h-1zM709 652h1v2h-1zM710 654h1v2h-1zM711 656h1v1h-1zM712 655h1v1h-1zM713 654h1v1h-1zM714 653h1v1h-1zM715 652h3v1h-3zM718 653h4v1h-4zM722 654h4v1h-4zM726 655h6v1h-6zM731 656h1v1h-1zM732 657h1v2h-1zM733 659h1v2h-1zM734 661h1v2h-1zM735 663h1v1h-1zM735 664h2v1h-2zM737 665h2v1h-2zM739 666h1v1h-1zM740 665h1v1h-1zM741 664h1v1h-1zM742 663h1v1h-1zM743 662h1v1h-1zM744 663h1v1h-1zM745 664h1v1h-1zM746 665h1v1h-1zM747 666h2v1h-2zM749 665h2v1h-2zM751 664h1v1h-1zM752 663h1v1h-1zM753 662h1v1h-1zM754 661h1v1h-1zM755 660h3v1h-3zM758 659h2v1h-2zM760 660h2v1h-2zM762 661h1v1h-1zM763 662h1v2h-1zM764 664h1v2h-1zM765 666h1v2h-1zM766 668h1v1h-1zM766 669h2v1h-2zM767 670h1v1h-1zM768 666h1v3h-1zM769 663h1v3h-1zM770 660h1v3h-1zM771 658h3v1h-3zM771 659h1v1h-1zM774 659h2v1h-2zM775 658h1v1h-1zM776 654h1v4h-1zM777 651h1v3h-1zM778 647h1v4h-1zM779 645h3v1h-3zM779 646h1v1h-1zM782 646h2v1h-2zM784 644h1v2h-1zM785 643h1v1h-1zM786 641h1v2h-1zM787 640h1v1h-1zM788 641h1v1h-1zM789 642h1v1h-1zM790 643h1v1h-1zM791 644h2v1h-2zM793 643h2v1h-2zM795 642h1v1h-1zM796 643h2v1h-2zM798 644h1v1h-1zM799 645h3v1h-3zM802 644h2v1h-2zM804 645h1v1h-1zM805 646h1v2h-1zM806 648h1v1h-1zM807 649h1v1h-1zM808 650h1v1h-1zM809 651h1v2h-1zM810 653h1v1h-1zM811 654h1v1h-1zM812 655h1v1h-1zM813 656h1v2h-1zM814 658h1v1h-1zM815 659h3v1h-3zM818 660h3v1h-3zM821 659h2v1h-2zM823 658h3v1h-3zM826 659h8v1h-8zM834 658h4v1h-4zM838 659h2v1h-2zM839 658h1v1h-1zM840 655h1v3h-1zM841 652h1v3h-1zM842 649h1v3h-1zM843 647h3v1h-3zM843 648h1v1h-1zM846 648h2v1h-2zM848 649h1v1h-1zM849 650h1v2h-1zM850 652h1v1h-1zM851 653h1v1h-1zM852 654h2v1h-2zM854 655h1v1h-1zM855 656h3v1h-3zM858 657h2v1h-2zM860 658h1v1h-1zM861 659h1v1h-1zM862 660h1v1h-1zM863 661h1v1h-1zM864 662h1v2h-1zM865 664h1v2h-1zM866 666h1v2h-1zM867 668h3v1h-3zM870 669h4v1h-4zM874 670h6v1h-6zM879 669h1v1h-1zM880 666h1v3h-1zM881 662h1v4h-1zM882 659h1v3h-1zM883 657h2v1h-2zM883 658h1v1h-1zM885 656h2v1h-2zM887 655h3v1h-3zM890 654h3v1h-3zM893 655h2v1h-2zM895 656h1v1h-1zM896 654h1v2h-1zM897 653h1v1h-1zM898 651h1v2h-1zM899 650h1v1h-1zM900 651h2v1h-2zM902 652h1v1h-1zM903 653h1v1h-1zM904 654h1v1h-1zM905 655h1v2h-1zM906 657h2v1h-2zM907 658h1v1h-1zM908 654h1v3h-1zM909 651h1v3h-1zM910 648h1v3h-1zM911 646h6v1h-6zM911 647h1v1h-1zM917 647h2v1h-2zM919 648h1v2h-1zM920 650h1v2h-1zM921 652h1v2h-1zM922 654h1v1h-1zM922 655h2v1h-2zM923 656h1v1h-1zM924 653h1v2h-1zM925 651h1v2h-1zM926 649h1v2h-1zM927 647h3v1h-3zM927 648h1v1h-1zM930 648h4v1h-4zM934 649h2v1h-2zM936 650h1v2h-1zM937 652h1v1h-1zM938 653h1v2h-1zM939 655h2v1h-2zM941 654h2v1h-2zM943 653h1v1h-1zM944 654h2v1h-2zM946 655h1v1h-1zM947 656h1v1h-1zM948 655h2v1h-2zM950 654h1v1h-1zM951 653h1v1h-1zM952 654h1v2h-1zM953 656h1v2h-1zM954 658h1v2h-1zM955 660h3v1h-3zM958 661h10v1h-10zM968 662h1v1h-1zM969 663h1v1h-1zM970 664h1v1h-1zM971 665h1v1h-1zM972 663h1v2h-1zM973 662h1v1h-1zM974 660h1v2h-1zM975 659h1v1h-1zM976 658h2v1h-2zM978 657h1v1h-1zM979 656h1v1h-1zM980 654h1v2h-1zM981 652h1v2h-1zM982 650h1v2h-1zM983 649h2v1h-2zM985 650h2v1h-2zM987 651h2v1h-2zM989 650h2v1h-2zM991 649h5v1h-5zM996 650h1v2h-1zM997 652h1v1h-1zM998 653h1v2h-1zM999 655h1v1h-1zM1000 653h1v2h-1zM1001 652h1v1h-1zM1002 650h1v2h-1zM1003 649h1v1h-1zM1004 647h1v2h-1zM1005 646h1v1h-1zM1006 644h1v2h-1zM1007 643h1v1h-1zM1008 642h2v1h-2zM1010 641h1v1h-1zM1011 640h5v1h-5zM1016 641h2v1h-2zM1018 642h1v1h-1zM1019 643h2v1h-2zM1021 642h2v1h-2zM1023 641h1v1h-1zM1024 640h1v1h-1zM1025 638h1v2h-1zM1026 637h1v1h-1zM1027 636h1v1h-1zM1028 634h1v2h-1zM1029 633h1v1h-1zM1030 631h1v2h-1zM1031 630h1v1h-1zM1032 629h2v1h-2zM1034 628h1v1h-1zM1035 627h5v1h-5zM1040 628h1v1h-1zM1041 629h1v1h-1zM1042 630h1v1h-1zM1043 631h3v1h-3zM1046 632h2v1h-2zM1048 633h1v1h-1zM1049 634h1v1h-1zM1050 635h1v1h-1zM1051 636h1v1h-1zM1052 637h1v1h-1zM1053 638h1v2h-1zM1054 640h1v1h-1zM1055 641h2v1h-2zM1057 642h2v1h-2zM1059 643h3v1h-3zM1062 644h2v1h-2zM1064 643h2v1h-2zM1066 642h1v1h-1zM1067 641h1v1h-1zM1068 640h1v1h-1zM1069 639h1v1h-1zM1070 638h1v1h-1zM1071 637h3v1h-3zM1074 636h2v1h-2zM1076 635h1v1h-1zM1077 634h1v1h-1zM1078 633h1v1h-1zM1079 632h2v1h-2zM1081 631h2v1h-2zM1083 630h2v1h-2zM1085 631h2v1h-2zM1087 632h2v1h-2zM1089 633h2v1h-2zM1091 634h1v3h-1zM1092 637h1v4h-1zM1093 641h1v4h-1zM1094 645h1v4h-1zM1095 649h1v1h-1zM1095 650h5v1h-5zM1100 651h1v1h-1zM1101 652h1v2h-1zM1102 654h1v1h-1zM1103 655h1v1h-1zM1104 656h2v1h-2zM1106 657h1v1h-1zM1107 658h3v1h-3zM1110 659h2v1h-2zM1112 658h1v1h-1zM1113 657h1v1h-1zM1114 656h1v1h-1zM1115 655h1v1h-1zM1116 656h1v1h-1zM1117 657h1v1h-1zM1118 658h1v1h-1zM1119 659h7v1h-7zM1126 660h2v1h-2zM1127 659h1v1h-1zM1128 656h1v3h-1zM1129 654h1v2h-1zM1130 651h1v3h-1zM1131 649h3v1h-3zM1131 650h1v1h-1zM1134 648h2v1h-2zM1136 647h1v1h-1zM1137 645h1v2h-1zM1138 644h1v1h-1zM1139 643h3v1h-3zM1142 644h2v1h-2zM1144 645h2v1h-2zM1146 646h1v1h-1zM1147 647h1v1h-1zM1148 646h2v1h-2zM1150 645h2v1h-2zM1151 644h1v1h-1zM1152 646h1v2h-1zM1153 648h1v2h-1zM1154 650h1v2h-1zM1155 652h1v1h-1zM1155 653h3v1h-3zM1158 654h2v1h-2zM1160 655h2v1h-2zM1162 656h1v1h-1zM1163 657h6v1h-6zM1169 658h2v1h-2zM1171 659h2v1h-2zM1173 658h2v1h-2zM1175 657h1v1h-1zM1176 655h1v2h-1zM1177 654h1v1h-1zM1178 652h1v2h-1zM1179 651h1v1h-1zM1180 652h2v1h-2zM1182 653h2v1h-2zM1183 654h1v1h-1zM1184 650h1v3h-1zM1185 647h1v3h-1zM1186 644h1v3h-1zM1187 642h1v2h-1zM1188 641h2v1h-2zM1190 640h1v1h-1zM1191 639h3v1h-3zM1194 638h6v1h-6zM1199 639h1v1h-1zM1200 640h1v2h-1zM1201 642h1v3h-1zM1202 645h1v2h-1zM1203 647h1v1h-1zM1203 648h3v1h-3zM1206 647h2v1h-2zM1208 646h2v1h-2zM1210 645h1v1h-1zM1211 644h1v1h-1zM1212 643h1v1h-1zM1213 641h1v2h-1zM1214 640h1v1h-1zM1215 639h2v1h-2zM1217 640h2v1h-2zM1219 641h1v1h-1zM1220 639h1v2h-1zM1221 638h1v1h-1zM1222 636h1v2h-1zM1223 635h1v1h-1zM1224 634h2v1h-2zM1226 633h1v1h-1zM1227 632h1v1h-1zM1228 633h1v1h-1zM1229 634h1v2h-1zM1230 636h1v1h-1zM1231 637h1v1h-1zM1232 636h2v1h-2zM1234 635h1v1h-1zM1235 634h1v1h-1zM1236 633h2v1h-2zM1238 632h2v1h-2zM1239 631h1v1h-1zM1240 633h1v2h-1zM1241 635h1v2h-1zM1242 637h1v2h-1zM1243 639h2v1h-2zM1245 640h2v1h-2zM1247 641h1v1h-1zM1248 642h1v2h-1zM1249 644h1v1h-1zM1250 645h1v2h-1zM1251 647h1v1h-1zM1252 648h1v1h-1zM1253 649h1v1h-1zM1254 650h1v1h-1zM1255 651h1v1h-1zM1256 650h1v1h-1zM1257 649h1v1h-1zM1258 648h1v1h-1zM1259 647h3v1h-3zM1262 646h4v1h-4zM1266 647h2v1h-2zM1268 646h2v1h-2zM1270 645h1v1h-1zM1271 643h1v2h-1zM1272 640h1v3h-1zM1273 638h1v2h-1zM1274 635h1v3h-1zM1275 633h2v1h-2zM1275 634h1v1h-1zM1277 632h2v1h-2zM1279 631h2v1h-2zM1281 630h2v1h-2zM1283 629h1v1h-1zM1284 628h2v1h-2zM1286 627h1v1h-1zM1287 626h2v1h-2zM1289 627h2v1h-2zM1291 628h1v1h-1zM1292 629h1v1h-1zM1293 630h1v1h-1zM1294 631h1v1h-1zM1295 632h1v2h-1zM1296 634h1v2h-1zM1297 636h1v2h-1zM1298 638h1v2h-1zM1299 640h1v1h-1zM1299 641h3v1h-3zM1302 640h5v1h-5z"/>
<clipPath id="cd"><rect x="7" y="701" width="1636" height="102"/></clipPath><g clip-path="url(#cd)">
<path fill="#c0c0c0" d="M7 745h1v5h-1zM11 742h1v8h-1zM15 741h1v9h-1zM19 740h1v10h-1zM23 739h1v11h-1zM27 736h1v14h-1zM31 733h1v17h-1zM35 732h1v18h-1zM39 729h1v21h-1zM43 736h1v14h-1zM47 737h1v13h-1zM51 738h1v12h-1zM55 739h1v11h-1zM59 735h1v15h-1zM63 734h1v16h-1zM67 727h1v23h-1zM71 722h1v28h-1zM75 721h1v29h-1zM79 722h1v28h-1zM83 723h1v27h-1zM87 726h1v24h-1zM91 732h1v18h-1zM95 739h1v11h-1zM99 745h1v5h-1zM103 749h1v2h-1zM107 749h1v6h-1zM111 749h1v10h-1zM115 749h1v11h-1zM119 749h1v13h-1zM123 749h1v12h-1zM127 749h1v9h-1zM131 749h1v5h-1zM135 749h1v4h-1zM139 749h1v2h-1zM143 744h1v6h-1zM147 740h1v10h-1zM151 738h1v12h-1zM155 739h1v11h-1zM159 742h1v8h-1zM163 746h1v4h-1zM167 749h1v4h-1zM171 749h1v10h-1zM175 749h1v15h-1zM179 749h1v23h-1zM183 749h1v27h-1zM187 749h1v31h-1zM191 749h1v34h-1zM195 749h1v38h-1zM199 749h1v38h-1zM203 749h1v36h-1zM207 749h1v32h-1zM211 749h1v27h-1zM215 749h1v24h-1zM219 749h1v21h-1zM223 749h1v19h-1zM227 749h1v17h-1zM231 749h1v13h-1zM235 749h1v9h-1zM239 749h1v5h-1zM243 749h1v2h-1zM247 749h1v1h-1zM251 749h1v4h-1zM255 749h1v7h-1zM259 749h1v9h-1zM263 749h1v17h-1zM267 749h1v23h-1zM271 749h1v27h-1zM275 749h1v31h-1zM279 749h1v30h-1zM283 749h1v26h-1zM287 749h1v23h-1zM291 749h1v18h-1zM295 749h1v15h-1zM299 749h1v11h-1zM303 749h1v7h-1zM307 749h1v4h-1zM311 748h1v2h-1zM315 749h1v3h-1zM319 749h1v5h-1zM323 749h1v5h-1zM327 749h1v7h-1zM331 749h1v12h-1zM335 749h1v16h-1zM339 749h1v20h-1zM343 749h1v24h-1zM347 749h1v28h-1zM351 749h1v32h-1zM355 749h1v30h-1zM359 749h1v31h-1zM363 749h1v30h-1zM367 749h1v30h-1zM371 749h1v26h-1zM375 749h1v21h-1zM379 749h1v18h-1zM383 749h1v15h-1zM387 749h1v10h-1zM391 749h1v7h-1zM395 749h1v3h-1zM399 749h1v1h-1zM403 747h1v3h-1zM407 749h1v2h-1zM411 749h1v6h-1zM415 749h1v7h-1zM419 749h1v7h-1zM423 749h1v11h-1zM427 749h1v15h-1zM431 749h1v22h-1zM435 749h1v27h-1zM439 749h1v30h-1zM443 749h1v31h-1zM447 749h1v29h-1zM451 749h1v23h-1zM455 749h1v24h-1zM459 749h1v23h-1zM463 749h1v22h-1zM467 749h1v21h-1zM471 749h1v21h-1zM475 749h1v19h-1zM479 749h1v15h-1zM483 749h1v11h-1zM487 749h1v8h-1zM491 749h1v6h-1zM495 749h1v7h-1zM499 749h1v7h-1zM503 749h1v9h-1zM507 749h1v12h-1zM511 749h1v15h-1zM515 749h1v16h-1zM519 749h1v17h-1zM523 749h1v18h-1zM527 749h1v18h-1zM531 749h1v15h-1zM535 749h1v12h-1zM539 749h1v11h-1zM543 749h1v11h-1zM547 749h1v14h-1zM551 749h1v16h-1zM555 749h1v17h-1zM559 749h1v15h-1zM563 749h1v11h-1zM567 749h1v5h-1zM571 748h1v2h-1zM575 740h1v10h-1zM579 732h1v18h-1zM583 724h1v26h-1zM587 720h1v30h-1zM591 717h1v33h-1zM595 716h1v34h-1zM599 718h1v32h-1zM603 725h1v25h-1zM607 731h1v19h-1zM611 734h1v16h-1zM615 740h1v10h-1zM619 743h1v7h-1zM623 739h1v11h-1zM627 733h1v17h-1zM631 726h1v24h-1zM635 718h1v32h-1zM639 713h1v37h-1zM643 709h1v41h-1zM647 708h1v42h-1zM651 707h1v43h-1zM655 707h1v43h-1zM659 713h1v37h-1zM663 718h1v32h-1zM667 725h1v25h-1zM671 730h1v20h-1zM675 739h1v11h-1zM679 747h1v3h-1zM683 749h1v5h-1zM687 749h1v10h-1zM691 749h1v10h-1zM695 749h1v10h-1zM699 749h1v10h-1zM703 749h1v9h-1zM707 749h1v8h-1zM711 749h1v12h-1zM715 749h1v13h-1zM719 749h1v14h-1zM723 749h1v16h-1zM727 749h1v16h-1zM731 749h1v17h-1zM735 749h1v23h-1zM739 749h1v28h-1zM743 749h1v30h-1zM747 749h1v35h-1zM751 749h1v37h-1zM755 749h1v38h-1zM759 749h1v37h-1zM763 749h1v38h-1zM767 749h1v43h-1zM771 749h1v43h-1zM775 749h1v43h-1zM779 749h1v35h-1zM783 749h1v29h-1zM787 749h1v20h-1zM791 749h1v15h-1zM795 749h1v10h-1zM799 749h1v8h-1zM803 749h1v5h-1zM807 749h1v5h-1zM811 749h1v8h-1zM815 749h1v14h-1zM819 749h1v20h-1zM823 749h1v23h-1zM827 749h1v25h-1zM831 749h1v28h-1zM835 749h1v28h-1zM839 749h1v29h-1zM843 749h1v25h-1zM847 749h1v22h-1zM851 749h1v22h-1zM855 749h1v23h-1zM859 749h1v24h-1zM863 749h1v27h-1zM867 749h1v34h-1zM871 749h1v41h-1zM875 749h1v46h-1zM879 749h1v50h-1zM883 749h1v48h-1zM887 749h1v44h-1zM891 749h1v41h-1zM895 749h1v39h-1zM899 749h1v34h-1zM903 749h1v32h-1zM907 749h1v33h-1zM911 749h1v27h-1zM915 749h1v22h-1zM919 749h1v19h-1zM923 749h1v21h-1zM927 749h1v18h-1zM931 749h1v16h-1zM935 749h1v15h-1zM939 749h1v17h-1zM943 749h1v18h-1zM947 749h1v21h-1zM951 749h1v21h-1zM955 749h1v26h-1zM959 749h1v30h-1zM963 749h1v33h-1zM967 749h1v35h-1zM971 749h1v39h-1zM975 749h1v40h-1zM979 749h1v38h-1zM983 749h1v33h-1zM987 749h1v30h-1zM991 749h1v27h-1zM995 749h1v24h-1zM999 749h1v24h-1zM1003 749h1v22h-1zM1007 749h1v16h-1zM1011 749h1v10h-1zM1015 749h1v5h-1zM1019 749h1v2h-1zM1023 747h1v3h-1zM1027 742h1v8h-1zM1031 733h1v17h-1zM1035 724h1v26h-1zM1039 717h1v33h-1zM1043 714h1v36h-1zM1047 712h1v38h-1zM1051 712h1v38h-1zM1055 715h1v35h-1zM1059 719h1v31h-1zM1063 722h1v28h-1zM1067 724h1v26h-1zM1071 723h1v27h-1zM1075 723h1v27h-1zM1079 720h1v30h-1zM1083 717h1v33h-1zM1087 716h1v34h-1zM1091 716h1v34h-1zM1095 723h1v27h-1zM1099 729h1v21h-1zM1103 736h1v14h-1zM1107 743h1v7h-1zM1111 749h1v1h-1zM1115 749h1v5h-1zM1119 749h1v9h-1zM1123 749h1v13h-1zM1127 749h1v17h-1zM1131 749h1v15h-1zM1135 749h1v13h-1zM1139 749h1v10h-1zM1143 749h1v7h-1zM1147 749h1v6h-1zM1151 749h1v4h-1zM1155 749h1v6h-1zM1159 749h1v9h-1zM1163 749h1v11h-1zM1167 749h1v13h-1zM1171 749h1v16h-1zM1175 749h1v17h-1zM1179 749h1v16h-1zM1183 749h1v16h-1zM1187 749h1v11h-1zM1191 749h1v7h-1zM1195 749h1v2h-1zM1199 747h1v3h-1zM1203 747h1v3h-1zM1207 748h1v2h-1zM1211 746h1v4h-1zM1215 744h1v6h-1zM1219 743h1v7h-1zM1223 739h1v11h-1zM1227 735h1v15h-1zM1231 733h1v17h-1zM1235 730h1v20h-1zM1239 726h1v24h-1zM1243 727h1v23h-1zM1247 728h1v22h-1zM1251 731h1v19h-1zM1255 736h1v14h-1zM1259 738h1v12h-1zM1263 739h1v11h-1zM1267 741h1v9h-1zM1271 741h1v9h-1zM1275 736h1v14h-1zM1279 731h1v19h-1zM1283 725h1v25h-1zM1287 720h1v30h-1zM1291 716h1v34h-1zM1295 715h1v35h-1zM1299 717h1v33h-1zM1303 719h1v31h-1zM1307 721h1v29h-1z"/>
<path fill="#ff0000" d="M7 753h2v1h-2zM9 752h1v1h-1zM13 750h2v1h-2zM15 749h1v1h-1zM19 747h2v1h-2zM21 746h1v1h-1zM25 744h2v1h-2zM27 743h1v1h-1zM31 741h2v1h-2zM33 740h1v1h-1zM37 738h2v1h-2zM39 737h1v1h-1zM43 735h3v1h-3zM49 735h3v1h-3zM55 735h3v1h-3zM61 734h3v1h-3zM67 733h3v1h-3zM73 732h1v1h-1zM74 731h2v1h-2zM79 729h3v1h-3zM85 728h1v1h-1zM86 727h2v1h-2zM91 726h3v1h-3zM97 727h2v1h-2zM99 728h1v1h-1zM103 730h1v1h-1zM104 731h1v1h-1zM105 732h1v1h-1zM109 736h1v1h-1zM110 737h1v1h-1zM111 738h1v1h-1zM115 742h1v1h-1zM116 743h1v1h-1zM117 744h1v1h-1zM121 748h1v1h-1zM122 749h1v1h-1zM123 750h1v1h-1zM127 753h3v1h-3zM133 754h1v1h-1zM134 755h2v1h-2zM139 755h3v1h-3zM145 753h2v1h-2zM147 752h1v1h-1zM151 750h1v1h-1zM152 749h2v1h-2zM157 746h2v1h-2zM159 745h1v1h-1zM163 744h3v1h-3zM169 744h3v1h-3zM175 746h1v1h-1zM176 747h2v1h-2zM181 751h1v1h-1zM182 752h1v1h-1zM183 753h1v1h-1zM187 757h1v1h-1zM188 758h1v1h-1zM189 759h1v1h-1zM192 763h1v1h-1zM193 764h1v2h-1zM197 769h1v1h-1zM198 770h1v1h-1zM199 771h1v1h-1zM203 775h2v1h-2zM205 776h1v1h-1zM209 778h2v1h-2zM211 779h1v1h-1zM215 779h3v1h-3zM221 778h1v1h-1zM222 777h2v1h-2zM227 775h1v1h-1zM228 774h2v1h-2zM233 771h1v1h-1zM234 770h1v1h-1zM235 769h1v1h-1zM239 766h1v1h-1zM240 765h1v1h-1zM241 764h1v1h-1zM245 761h1v1h-1zM246 760h1v1h-1zM247 759h1v1h-1zM251 757h3v1h-3zM257 755h2v1h-2zM259 754h1v1h-1zM263 755h3v1h-3zM269 757h2v1h-2zM271 758h1v1h-1zM275 761h1v1h-1zM276 762h2v1h-2zM281 765h2v1h-2zM283 766h1v1h-1zM287 769h3v1h-3zM293 770h3v1h-3zM299 770h2v1h-2zM301 769h1v1h-1zM305 767h1v1h-1zM306 766h1v1h-1zM307 765h1v1h-1zM311 762h1v1h-1zM312 761h2v1h-2zM317 758h2v1h-2zM319 757h1v1h-1zM323 755h2v1h-2zM325 754h1v1h-1zM329 753h3v1h-3zM335 754h3v1h-3zM341 756h2v1h-2zM343 757h1v1h-1zM347 760h1v1h-1zM348 761h1v1h-1zM349 762h1v1h-1zM353 765h2v1h-2zM355 766h1v1h-1zM359 769h1v1h-1zM360 770h2v1h-2zM365 773h2v1h-2zM367 774h1v1h-1zM371 775h3v1h-3zM377 775h1v1h-1zM378 774h2v1h-2zM383 773h1v1h-1zM384 772h2v1h-2zM389 769h2v1h-2zM391 768h1v1h-1zM395 765h1v1h-1zM396 764h1v1h-1zM397 763h1v1h-1zM401 760h1v1h-1zM402 759h1v1h-1zM403 758h1v1h-1zM407 755h3v1h-3zM413 754h1v1h-1zM414 753h2v1h-2zM419 752h3v1h-3zM425 752h1v1h-1zM426 753h2v1h-2zM431 755h1v1h-1zM432 756h2v1h-2zM437 759h1v1h-1zM438 760h1v1h-1zM439 761h1v1h-1zM443 764h1v1h-1zM444 765h2v1h-2zM449 768h2v1h-2zM451 769h1v1h-1zM455 770h2v1h-2zM457 771h1v1h-1zM461 772h1v1h-1zM462 773h2v1h-2zM467 773h3v1h-3zM473 772h1v1h-1zM474 771h2v1h-2zM479 769h2v1h-2zM481 768h1v1h-1zM485 766h2v1h-2zM487 765h1v1h-1zM491 763h2v1h-2zM493 762h1v1h-1zM497 761h1v1h-1zM498 760h2v1h-2zM503 758h3v1h-3zM509 757h3v1h-3zM515 757h3v1h-3zM521 758h1v1h-1zM522 759h2v1h-2zM527 760h3v1h-3zM533 761h1v1h-1zM534 762h2v1h-2zM539 762h3v1h-3zM545 762h3v1h-3zM551 762h3v1h-3zM557 762h1v1h-1zM558 761h2v1h-2zM563 761h3v1h-3zM569 759h2v1h-2zM571 758h1v1h-1zM575 756h1v1h-1zM576 755h2v1h-2zM581 751h1v1h-1zM582 750h1v1h-1zM583 749h1v1h-1zM586 745h1v1h-1zM587 744h1v1h-1zM588 743h1v1h-1zM591 739h1v1h-1zM592 737h1v2h-1zM595 733h1v1h-1zM596 732h1v1h-1zM597 731h1v1h-1zM601 728h1v1h-1zM602 727h1v1h-1zM603 726h1v1h-1zM607 724h3v1h-3zM613 723h1v1h-1zM614 724h2v1h-2zM619 726h2v1h-2zM621 727h1v1h-1zM625 729h2v1h-2zM627 730h1v1h-1zM631 731h3v1h-3zM637 731h1v1h-1zM638 730h2v1h-2zM643 727h1v1h-1zM644 726h2v1h-2zM649 723h1v1h-1zM650 722h1v1h-1zM651 721h1v1h-1zM655 717h1v1h-1zM656 716h2v1h-2zM661 713h2v1h-2zM663 712h1v1h-1zM667 712h3v1h-3zM673 714h1v1h-1zM674 715h1v1h-1zM675 716h1v1h-1zM679 720h1v1h-1zM680 721h1v1h-1zM681 722h1v1h-1zM684 726h1v2h-1zM685 728h1v1h-1zM688 732h1v2h-1zM689 734h1v1h-1zM692 738h1v1h-1zM693 739h1v2h-1zM697 744h1v1h-1zM698 745h1v1h-1zM699 746h1v1h-1zM703 750h1v1h-1zM704 751h2v1h-2zM709 754h2v1h-2zM711 755h1v1h-1zM715 757h3v1h-3zM721 758h3v1h-3zM727 759h3v1h-3zM733 760h1v1h-1zM734 761h2v1h-2zM739 763h1v1h-1zM740 764h2v1h-2zM745 767h2v1h-2zM747 768h1v1h-1zM751 771h1v1h-1zM752 772h2v1h-2zM757 775h2v1h-2zM759 776h1v1h-1zM763 778h1v1h-1zM764 779h2v1h-2zM769 782h1v1h-1zM770 783h1v1h-1zM771 784h1v1h-1zM775 785h3v1h-3zM781 786h1v1h-1zM782 785h2v1h-2zM787 783h2v1h-2zM789 782h1v1h-1zM793 780h1v1h-1zM794 779h1v1h-1zM795 778h1v1h-1zM799 774h1v1h-1zM800 773h1v1h-1zM801 772h1v1h-1zM805 768h1v1h-1zM806 767h1v1h-1zM807 766h1v1h-1zM811 762h2v1h-2zM813 761h1v1h-1zM817 760h1v1h-1zM818 759h2v1h-2zM823 759h3v1h-3zM829 761h2v1h-2zM831 762h1v1h-1zM835 764h1v1h-1zM836 765h2v1h-2zM841 768h2v1h-2zM843 769h1v1h-1zM847 771h3v1h-3zM853 772h3v1h-3zM859 772h3v1h-3zM865 772h1v1h-1zM866 773h2v1h-2zM871 774h2v1h-2zM873 775h1v1h-1zM877 777h1v1h-1zM878 778h1v1h-1zM879 779h1v1h-1zM883 782h1v1h-1zM884 783h2v1h-2zM889 786h2v1h-2zM891 787h1v1h-1zM895 788h3v1h-3zM901 789h3v1h-3zM907 788h2v1h-2zM909 787h1v1h-1zM913 785h1v1h-1zM914 784h1v1h-1zM915 783h1v1h-1zM919 779h2v1h-2zM921 778h1v1h-1zM925 776h1v1h-1zM926 775h1v1h-1zM927 774h1v1h-1zM931 772h2v1h-2zM933 771h1v1h-1zM937 769h2v1h-2zM939 768h1v1h-1zM943 766h3v1h-3zM949 766h3v1h-3zM955 766h3v1h-3zM961 768h2v1h-2zM963 769h1v1h-1zM967 771h1v1h-1zM968 772h2v1h-2zM973 775h2v1h-2zM975 776h1v1h-1zM979 779h3v1h-3zM985 780h1v1h-1zM986 781h2v1h-2zM991 781h3v1h-3zM997 780h1v1h-1zM998 779h2v1h-2zM1003 778h1v1h-1zM1004 777h2v1h-2zM1009 774h1v1h-1zM1010 773h1v1h-1zM1011 772h1v1h-1zM1015 768h1v1h-1zM1016 767h2v1h-2zM1021 763h1v1h-1zM1022 762h1v1h-1zM1023 761h1v1h-1zM1027 758h1v1h-1zM1028 757h1v1h-1zM1029 756h1v1h-1zM1032 752h1v1h-1zM1033 750h1v2h-1zM1036 746h1v1h-1zM1037 745h1v1h-1zM1038 744h1v1h-1zM1041 739h1v2h-1zM1042 738h1v1h-1zM1045 734h1v1h-1zM1046 733h1v1h-1zM1047 732h1v1h-1zM1050 728h1v1h-1zM1051 727h1v1h-1zM1052 726h1v1h-1zM1056 722h2v1h-2zM1058 721h1v1h-1zM1062 719h1v1h-1zM1063 718h2v1h-2zM1068 717h3v1h-3zM1074 717h3v1h-3zM1080 718h3v1h-3zM1086 719h3v1h-3zM1092 719h3v1h-3zM1098 720h3v1h-3zM1104 722h1v1h-1zM1105 723h2v1h-2zM1110 726h1v1h-1zM1111 727h1v1h-1zM1112 728h1v1h-1zM1116 731h1v1h-1zM1117 732h1v2h-1zM1121 737h1v2h-1zM1122 739h1v1h-1zM1125 743h1v1h-1zM1126 744h1v1h-1zM1127 745h1v1h-1zM1130 749h1v1h-1zM1131 750h1v1h-1zM1132 751h1v1h-1zM1136 754h2v1h-2zM1138 755h1v1h-1zM1142 757h3v1h-3zM1148 758h3v1h-3zM1154 757h3v1h-3zM1160 757h2v1h-2zM1162 756h1v1h-1zM1166 756h3v1h-3zM1172 756h2v1h-2zM1174 757h1v1h-1zM1178 758h3v1h-3zM1184 759h2v1h-2zM1186 760h1v1h-1zM1190 760h3v1h-3zM1196 759h2v1h-2zM1198 758h1v1h-1zM1202 757h1v1h-1zM1203 756h2v1h-2zM1208 754h1v1h-1zM1209 753h2v1h-2zM1214 751h1v1h-1zM1215 750h2v1h-2zM1220 747h2v1h-2zM1222 746h1v1h-1zM1226 744h1v1h-1zM1227 743h2v1h-2zM1232 741h1v1h-1zM1233 740h2v1h-2zM1238 738h1v1h-1zM1239 737h2v1h-2zM1244 735h1v1h-1zM1245 734h2v1h-2zM1250 732h1v1h-1zM1251 731h2v1h-2zM1256 731h2v1h-2zM1258 730h1v1h-1zM1262 731h3v1h-3zM1268 732h2v1h-2zM1270 733h1v1h-1zM1274 734h3v1h-3zM1280 735h2v1h-2zM1282 734h1v1h-1zM1286 733h3v1h-3zM1292 730h2v1h-2zM1294 729h1v1h-1zM1298 727h1v1h-1zM1299 726h2v1h-2zM1304 723h2v1h-2zM1306 722h1v1h-1z"/>
</g>
<rect x="7" y="804" width="1" height="3" fill="#000"/>
<rect x="71" y="804" width="1" height="3" fill="#000"/>
<rect x="135" y="804" width="1" height="3" fill="#000"/>
<rect x="199" y="804" width="1" height="3" fill="#000"/>
<rect x="263" y="804" width="1" height="3" fill="#000"/>
<rect x="327" y="804" width="1" height="3" fill="#000"/>
<rect x="391" y="804" width="1" height="3" fill="#000"/>
<rect x="455" y="804" width="1" height="3" fill="#000"/>
<rect x="519" y="804" width="1" height="3" fill="#000"/>
<rect x="583" y="804" width="1" height="3" fill="#000"/>
<rect x="647" y="804" width="1" height="3" fill="#000"/>
<rect x="711" y="804" width="1" height="3" fill="#000"/>
<rect x="775" y="804" width="1" height="3" fill="#000"/>
<rect x="839" y="804" width="1" height="3" fill="#000"/>
<rect x="903" y="804" width="1" height="3" fill="#000"/>
<rect x="967" y="804" width="1" height="3" fill="#000"/>
<rect x="1031" y="804" width="1" height="3" fill="#000"/>
<rect x="1095" y="804" width="1" height="3" fill="#000"/>
<rect x="1159" y="804" width="1" height="3" fill="#000"/>
<rect x="1223" y="804" width="1" height="3" fill="#000"/>
<rect x="1287" y="804" width="1" height="3" fill="#000"/>
<g shape-rendering="auto">
<g transform="translate(6,816) scale(0.955,1)">
<text x="0" y="0" fill="#000" stroke="#000" stroke-width="0.16">22 Dec 2018</text>
</g>
<g transform="translate(70,816) scale(0.955,1)">
<text x="0" y="0" fill="#000" stroke="#000" stroke-width="0.16">10 Jan 2019</text>
</g>
<g transform="translate(134,816) scale(0.955,1)">
<text x="0" y="0" fill="#000" stroke="#000" stroke-width="0.16">29 Jan 2019</text>
</g>
<g transform="translate(198,816) scale(0.955,1)">
<text x="0" y="0" fill="#000" stroke="#000" stroke-width="0.16">16 Feb 2019</text>
</g>
<g transform="translate(262,816) scale(0.955,1)">
<text x="0" y="0" fill="#000" stroke="#000" stroke-width="0.16">7 Mar 2019</text>
</g>
<g transform="translate(326,816) scale(0.955,1)">
<text x="0" y="0" fill="#000" stroke="#000" stroke-width="0.16">26 Mar 2019</text>
</g>
<g transform="translate(390,816) scale(0.955,1)">
<text x="0" y="0" fill="#000" stroke="#000" stroke-width="0.16">13 Apr 2019</text>
</g>
<g transform="translate(454,816) scale(0.955,1)">
<text x="0" y="0" fill="#000" stroke="#000" stroke-width="0.16">2 May 2019</text>
</g>
<g transform="translate(518,816) scale(0.955,1)">
<text x="0" y="0" fill="#000" stroke="#000" stroke-width="0.16">21 May 2019</text>
</g>
<g transform="translate(582,816) scale(0.955,1)">
<text x="0" y="0" fill="#000" stroke="#000" stroke-width="0.16">8 Jun 2019</text>
</g>
<g transform="translate(646,816) scale(0.955,1)">
<text x="0" y="0" fill="#000" stroke="#000" stroke-width="0.16">27 Jun 2019</text>
</g>
<g transform="translate(710,816) scale(0.955,1)">
<text x="0" y="0" fill="#000" stroke="#000" stroke-width="0.16">16 Jul 2019</text>
</g>
<g transform="translate(774,816) scale(0.955,1)">
<text x="0" y="0" fill="#000" stroke="#000" stroke-width="0.16">3 Aug 2019</text>
</g>
<g transform="translate(838,816) scale(0.955,1)">
<text x="0" y="0" fill="#000" stroke="#000" stroke-width="0.16">22 Aug 2019</text>
</g>
<g transform="translate(902,816) scale(0.955,1)">
<text x="0" y="0" fill="#000" stroke="#000" stroke-width="0.16">10 Sep 2019</text>
</g>
<g transform="translate(966,816) scale(0.955,1)">
<text x="0" y="0" fill="#000" stroke="#000" stroke-width="0.16">28 Sep 2019</text>
</g>
<g transform="translate(1030,816) scale(0.955,1)">
<text x="0" y="0" fill="#000" stroke="#000" stroke-width="0.16">17 Oct 2019</text>
</g>
<g transform="translate(1094,816) scale(0.955,1)">
<text x="0" y="0" fill="#000" stroke="#000" stroke-width="0.16">5 Nov 2019</text>
</g>
<g transform="translate(1158,816) scale(0.955,1)">
<text x="0" y="0" fill="#000" stroke="#000" stroke-width="0.16">23 Nov 2019</text>
</g>
<g transform="translate(1222,816) scale(0.955,1)">
<text x="0" y="0" fill="#000" stroke="#000" stroke-width="0.16">12 Dec 2019</text>
</g>
<g transform="translate(1286,816) scale(0.955,1)">
<text x="0" y="0" fill="#000" stroke="#000" stroke-width="0.16">31 Dec 2019</text>
</g>
</g>
<rect x="75" y="0" width="1" height="20" fill="#a0a0a0"/>
<rect x="76" y="0" width="1" height="20" fill="#ffffff"/>
<rect x="79" y="1" width="3" height="1" fill="#a0a0a0"/>
<rect x="79" y="3" width="3" height="1" fill="#a0a0a0"/>
<rect x="79" y="5" width="3" height="1" fill="#a0a0a0"/>
<rect x="79" y="7" width="3" height="1" fill="#a0a0a0"/>
<rect x="79" y="9" width="3" height="1" fill="#a0a0a0"/>
<rect x="79" y="11" width="3" height="1" fill="#a0a0a0"/>
<rect x="79" y="13" width="3" height="1" fill="#a0a0a0"/>
<rect x="79" y="15" width="3" height="1" fill="#a0a0a0"/>
<rect x="79" y="17" width="3" height="1" fill="#a0a0a0"/>
<pattern id="chk" width="2" height="2" patternUnits="userSpaceOnUse"><rect width="2" height="2" fill="#f0f0f0"/><rect width="1" height="1" fill="#fff"/><rect x="1" y="1" width="1" height="1" fill="#fff"/></pattern>
<rect x="253" y="0" width="1" height="19" fill="#a0a0a0"/>
<rect x="254" y="0" width="24" height="19" fill="url(#chk)"/>
<rect x="278" y="0" width="1" height="20" fill="#ffffff"/>
<rect x="253" y="19" width="26" height="1" fill="#ffffff"/>
<rect x="336" y="0" width="1" height="21" fill="#a0a0a0"/>
<rect x="337" y="0" width="1" height="21" fill="#ffffff"/>
<g shape-rendering="auto">
<text x="90.7" y="13" fill="#404040" font-size="10.2" textLength="12.5" lengthAdjust="spacingAndGlyphs" stroke="#404040" stroke-width="0.1">M1</text>
<text x="118.6" y="13" fill="#404040" font-size="10.2" textLength="12.8" lengthAdjust="spacingAndGlyphs" stroke="#404040" stroke-width="0.1">M5</text>
<text x="144.4" y="13" fill="#404040" font-size="10.2" textLength="17.7" lengthAdjust="spacingAndGlyphs" stroke="#404040" stroke-width="0.1">M15</text>
<text x="172.6" y="13" fill="#404040" font-size="10.2" textLength="17.7" lengthAdjust="spacingAndGlyphs" stroke="#404040" stroke-width="0.1">M30</text>
<text x="203.6" y="13" fill="#404040" font-size="10.2" textLength="11.6" lengthAdjust="spacingAndGlyphs" stroke="#404040" stroke-width="0.1">H1</text>
<text x="230.7" y="13" fill="#404040" font-size="10.2" textLength="12.4" lengthAdjust="spacingAndGlyphs" stroke="#404040" stroke-width="0.1">H4</text>
<text x="259.7" y="13" fill="#404040" font-size="10.2" textLength="11.6" lengthAdjust="spacingAndGlyphs" stroke="#404040" stroke-width="0.1">D1</text>
<text x="287.1" y="13" fill="#404040" font-size="10.2" textLength="14.1" lengthAdjust="spacingAndGlyphs" stroke="#404040" stroke-width="0.1">W1</text>
<text x="313.7" y="13" fill="#404040" font-size="10.2" textLength="14.4" lengthAdjust="spacingAndGlyphs" stroke="#404040" stroke-width="0.1">MN</text>
</g>
<rect x="17" y="3" width="1" height="1" fill="#505050"/>
<rect x="19" y="3" width="1" height="1" fill="#505050"/>
<rect x="21" y="3" width="1" height="1" fill="#505050"/>
<rect x="23" y="3" width="1" height="1" fill="#505050"/>
<rect x="25" y="3" width="1" height="1" fill="#505050"/>
<rect x="27" y="3" width="1" height="1" fill="#505050"/>
<rect x="16" y="15" width="1" height="1" fill="#505050"/>
<rect x="18" y="15" width="1" height="1" fill="#505050"/>
<rect x="20" y="15" width="1" height="1" fill="#505050"/>
<rect x="22" y="15" width="1" height="1" fill="#505050"/>
<rect x="24" y="15" width="1" height="1" fill="#505050"/>
<rect x="26" y="15" width="1" height="1" fill="#505050"/>
<rect x="16" y="5" width="1" height="1" fill="#505050"/>
<rect x="16" y="7" width="1" height="1" fill="#505050"/>
<rect x="16" y="9" width="1" height="1" fill="#505050"/>
<rect x="16" y="11" width="1" height="1" fill="#505050"/>
<rect x="16" y="13" width="1" height="1" fill="#505050"/>
<rect x="16" y="15" width="1" height="1" fill="#505050"/>
<rect x="27" y="3" width="1" height="1" fill="#505050"/>
<rect x="27" y="5" width="1" height="1" fill="#505050"/>
<rect x="27" y="7" width="1" height="1" fill="#505050"/>
<rect x="27" y="9" width="1" height="1" fill="#505050"/>
<rect x="27" y="11" width="1" height="1" fill="#505050"/>
<rect x="27" y="13" width="1" height="1" fill="#505050"/>
<rect x="15" y="2" width="2" height="1" fill="#505050"/>
<rect x="16" y="3" width="1" height="1" fill="#505050"/>
<rect x="18" y="6" width="8" height="1" fill="#505050"/>
<rect x="21" y="7" width="2" height="7" fill="#505050"/>
<g shape-rendering="auto" fill="#505050"><path d="M46.5 3 L50 6.5 L48 6.5 L48 8 L45 8 L45 6.5 L43 6.5 Z"/><path d="M53.5 16 L57 12.5 L55 12.5 L55 11 L52 11 L52 12.5 L50 12.5 Z"/><path d="M45 10.5 L47.3 12.6 L52 7.5" fill="none" stroke="#505050" stroke-width="1.2"/></g>
<rect x="64" y="8" width="5" height="1" fill="#000"/>
<rect x="65" y="9" width="3" height="1" fill="#000"/>
<rect x="66" y="10" width="1" height="1" fill="#000"/>
<rect x="10" y="32" width="7" height="1" fill="#000"/>
<rect x="11" y="33" width="5" height="1" fill="#000"/>
<rect x="12" y="34" width="3" height="1" fill="#000"/>
<rect x="13" y="35" width="1" height="1" fill="#000"/>
<g shape-rendering="auto">
<text x="22.2" y="37" fill="#000" textLength="63.6" lengthAdjust="spacingAndGlyphs" stroke="#000" stroke-width="0.16">EURUSD,Daily</text>
<text x="92.5" y="37" fill="#000" textLength="32.3" lengthAdjust="spacingAndGlyphs" stroke="#000" stroke-width="0.16">1.11588</text>
<text x="128.9" y="37" fill="#000" textLength="32.3" lengthAdjust="spacingAndGlyphs" stroke="#000" stroke-width="0.16">1.11674</text>
<text x="164.5" y="37" fill="#000" textLength="32.3" lengthAdjust="spacingAndGlyphs" stroke="#000" stroke-width="0.16">1.11583</text>
<text x="200.7" y="37" fill="#000" textLength="32.3" lengthAdjust="spacingAndGlyphs" stroke="#000" stroke-width="0.16">1.11646</text>
<text x="11.4" y="607" fill="#000" textLength="31.3" lengthAdjust="spacingAndGlyphs" stroke="#000" stroke-width="0.16">RSI(14)</text>
<text x="46.2" y="607" fill="#000" textLength="32.8" lengthAdjust="spacingAndGlyphs" stroke="#000" stroke-width="0.16">56.5545</text>
<text x="11.4" y="713" fill="#000" textLength="65.4" lengthAdjust="spacingAndGlyphs" stroke="#000" stroke-width="0.16">MACD(12,26,9)</text>
<text x="80.4" y="713" fill="#000" textLength="37.4" lengthAdjust="spacingAndGlyphs" stroke="#000" stroke-width="0.16">0.002716</text>
<text x="121.4" y="713" fill="#000" textLength="36.9" lengthAdjust="spacingAndGlyphs" stroke="#000" stroke-width="0.16">0.002627</text>
<text x="20.7" y="840.5" fill="#000" font-size="12.5" textLength="79" lengthAdjust="spacingAndGlyphs" stroke="#000" stroke-width="0.2">EURUSD,Daily</text>
<text x="122.4" y="840.5" fill="#707070" font-size="12.5" textLength="78.6" lengthAdjust="spacingAndGlyphs" stroke="#707070" stroke-width="0.1">USDCHF,Daily</text>
<text x="223" y="840.5" fill="#707070" font-size="12.5" textLength="82" lengthAdjust="spacingAndGlyphs" stroke="#707070" stroke-width="0.1">AUDUSD,Daily</text>
<text x="327.7" y="840.5" fill="#707070" font-size="12.5" textLength="80.3" lengthAdjust="spacingAndGlyphs" stroke="#707070" stroke-width="0.1">USDCAD,Daily</text>
<text x="430.5" y="840.5" fill="#707070" font-size="12.5" textLength="82.5" lengthAdjust="spacingAndGlyphs" stroke="#707070" stroke-width="0.1">USDCNH,Daily</text>
</g>
</svg>
</body></html>
